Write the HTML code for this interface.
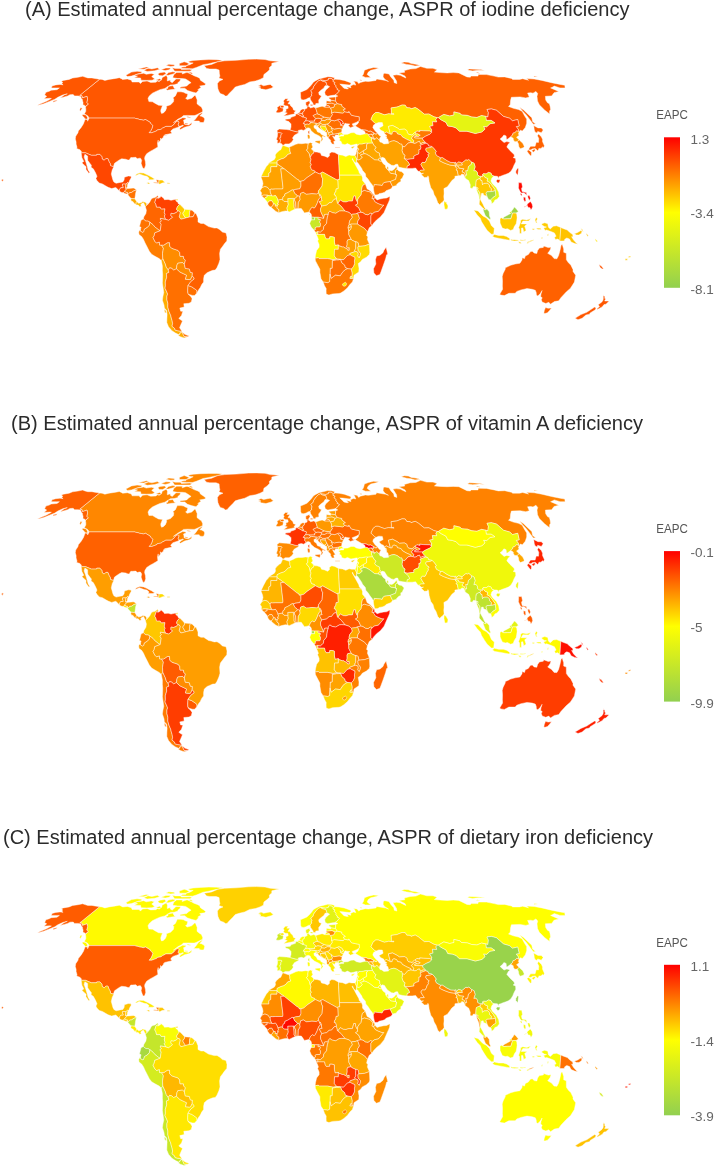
<!DOCTYPE html>
<html><head><meta charset="utf-8"><title>EAPC maps</title>
<style>
html,body{margin:0;padding:0;background:#fff}
body{width:714px;height:1166px;overflow:hidden;position:relative;font-family:"Liberation Sans","Noto Sans CJK SC",sans-serif}
svg{position:absolute;left:0;top:0;display:block}
.t{font-size:20px;fill:#2b2b2b}
.lt{font-size:12.6px;fill:#555}
.ll{font-size:13.5px;fill:#666}
</style></head><body>
<svg width="714" height="1166" viewBox="0 0 714 1166">
<defs>
<linearGradient id="lg" x1="0" y1="0" x2="0" y2="1"><stop offset="0" stop-color="#ff0000"/><stop offset="0.5" stop-color="#ffff00"/><stop offset="1" stop-color="#92d050"/></linearGradient>
<path id="CAN" d="M99.6,79.2L102.1,79.4L104.9,80.4L109.0,79.4L115.7,78.4L119.3,77.7L121.9,78.9L122.5,79.5L127.4,78.9L131.4,80.2L132.1,82.0L139.1,82.0L140.4,83.6L142.6,81.4L147.1,81.0L150.7,82.4L155.8,82.2L157.5,81.0L159.2,81.5L161.8,79.4L162.0,77.7L166.4,75.3L167.5,77.7L167.3,79.4L167.3,81.0L170.3,79.9L170.3,81.5L172.2,82.7L176.0,78.9L180.6,79.0L180.0,81.0L177.8,82.7L178.1,83.6L174.1,84.8L170.4,84.9L168.8,86.1L167.8,86.5L164.9,88.4L159.9,89.7L156.0,91.4L152.4,93.2L149.3,95.9L148.0,98.3L148.9,101.6L152.6,101.8L154.9,103.2L158.5,105.2L162.5,105.6L160.8,109.9L160.8,111.5L161.5,113.4L163.3,112.9L165.4,110.9L166.6,107.9L166.3,106.2L170.6,104.8L173.5,101.8L173.8,98.9L172.8,97.9L175.4,95.9L177.3,91.8L181.0,91.8L183.6,92.3L185.3,93.2L187.8,94.1L187.0,96.9L185.6,98.3L187.3,99.5L191.7,98.3L194.7,95.4L195.4,95.4L197.2,99.9L197.0,103.8L199.4,105.8L201.4,106.9L202.7,109.9L202.5,111.9L200.0,113.1L196.1,115.0L194.2,115.6L187.7,115.4L183.5,115.6L181.2,117.5L178.1,119.1L174.6,121.8L173.4,122.6L177.7,120.2L182.7,117.7L185.9,118.1L185.9,119.1L183.5,120.2L184.0,122.2L184.0,123.9L185.5,124.5L188.7,124.9L192.0,122.4L191.3,124.7L189.3,126.0L184.6,127.2L180.5,129.5L179.5,128.9L180.7,127.2L183.4,125.8L183.1,125.1L180.8,126.0L179.0,126.2L178.0,124.9L179.0,122.0L178.4,121.4L177.0,121.2L175.0,122.9L173.9,124.5L171.3,126.4L165.8,126.4L164.1,127.4L162.5,128.1L161.1,129.3L157.1,130.0L156.8,130.8L154.8,131.6L151.8,132.7L149.0,132.7L150.9,130.6L151.9,128.5L152.8,125.8L151.7,124.3L150.4,123.3L150.3,122.4L145.5,119.5L143.4,120.2L141.4,119.7L139.5,119.5L138.2,118.9L135.6,118.5L135.0,118.1L88.8,118.1L88.6,117.0L87.3,115.4L84.3,114.0L85.8,111.3L85.8,108.9L85.4,106.9L88.3,104.0L86.7,102.6L87.6,99.1L87.0,96.3L82.4,97.9L82.0,95.8L79.7,95.4ZM82.6,114.4L86.0,115.0L87.5,117.5L87.3,119.3L85.2,118.9L83.7,117.0L82.2,115.6ZM80.4,107.7L82.3,107.9L80.3,111.3L79.7,109.9ZM193.6,121.0L195.5,119.1L198.6,114.8L201.7,112.7L202.5,112.9L199.8,116.0L201.4,116.2L203.9,117.5L204.7,119.1L203.9,122.2L202.1,122.6L199.6,122.2L199.2,121.0L196.6,121.0ZM184.6,122.9L188.3,123.5L187.2,124.3L184.8,123.9ZM186.6,116.2L190.3,117.3L190.6,117.9L187.8,117.5ZM196.0,92.9L191.4,91.8L187.6,90.5L184.7,88.2L179.9,88.2L180.4,87.0L186.7,86.1L188.9,83.9L191.1,82.7L188.8,81.0L185.6,78.9L182.4,78.5L177.6,78.5L172.9,77.7L172.9,76.9L173.9,74.5L176.6,72.4L182.4,72.4L182.2,74.0L186.2,72.6L188.1,72.6L191.3,74.2L194.0,75.8L197.2,76.9L199.7,78.2L200.4,80.2L203.4,82.2L205.8,84.1L204.5,85.3L199.7,86.1L201.1,87.4L197.7,89.7L199.1,89.8ZM167.8,86.5L172.8,85.6L174.4,88.4L175.8,89.1L171.4,89.5L167.3,90.2L165.8,89.1L168.0,88.2ZM134.2,77.7L140.6,78.0L141.0,80.2L146.4,80.4L152.1,80.2L154.8,78.9L153.2,77.7L151.7,76.6L154.4,74.2L151.3,73.4L146.2,74.3L143.7,73.2L137.2,74.2L133.9,75.8L137.5,76.1ZM125.8,75.3L127.5,76.6L131.4,76.1L138.5,73.7L141.7,73.2L141.6,71.8L137.1,71.3L131.5,72.1ZM143.8,70.3L147.2,71.5L154.7,70.7L159.7,69.3L157.4,67.8L151.9,69.0L148.0,68.3ZM161.0,69.8L165.1,70.6L169.2,69.8L170.7,68.1L165.9,68.0ZM157.8,74.0L159.4,75.6L162.6,75.8L166.1,73.7L164.6,72.1L159.9,72.7ZM165.8,75.3L168.4,75.3L174.0,73.7L175.4,72.3L172.7,71.8L168.6,72.6ZM155.9,79.9L158.9,81.0L161.4,79.9L159.7,78.7ZM172.3,67.8L174.6,71.2L182.2,71.3L190.1,71.2L192.1,69.8L189.4,69.3L181.4,69.6L180.9,68.4L175.3,68.4ZM180.5,68.3L186.4,68.6L192.5,68.7L196.3,67.5L200.6,65.8L203.0,64.7L208.8,63.7L213.5,62.6L218.6,61.6L222.8,60.3L216.6,59.7L208.9,59.6L200.6,59.9L193.0,60.5L188.2,61.4L190.0,62.7L193.2,62.9L189.8,64.7L186.0,65.8L186.0,66.8L182.5,67.1ZM179.3,63.6L179.5,65.7L186.1,65.7L189.4,64.0L186.7,62.6L184.2,61.8ZM165.9,65.4L170.6,66.4L174.6,66.1L174.2,64.7L168.8,64.3ZM138.0,69.0L143.9,69.3L149.1,67.5L146.3,67.0ZM188.1,72.6L191.5,74.0L193.0,73.7L191.0,72.3Z"/>
<path id="USA" d="M88.8,118.1L135.0,118.1L135.6,118.5L138.2,118.9L139.5,119.5L141.4,119.7L143.4,120.2L145.5,119.5L150.3,122.4L150.4,123.3L151.7,124.3L152.8,125.8L151.9,128.5L150.9,130.6L149.0,132.7L151.8,132.7L154.8,131.6L156.8,130.8L157.1,130.0L161.1,129.3L162.5,128.1L164.1,127.4L165.8,126.4L171.3,126.4L173.9,124.5L175.0,122.9L177.0,121.2L178.4,121.4L179.0,122.0L178.0,124.9L179.0,126.2L178.7,127.0L175.9,127.9L173.0,128.9L171.2,130.6L170.7,131.6L171.7,132.7L171.5,133.5L169.7,133.8L167.8,134.2L164.5,135.0L167.5,135.0L163.8,135.7L163.2,137.6L161.1,139.2L160.5,138.0L160.5,140.1L158.3,143.1L158.2,140.1L157.5,143.3L157.9,146.9L155.8,148.2L152.9,149.9L150.1,151.4L146.7,153.7L144.9,156.7L144.6,158.6L145.4,161.8L145.7,165.0L144.6,168.2L143.1,168.6L142.2,166.5L141.1,163.3L141.7,160.3L140.5,158.2L139.2,158.2L137.3,158.8L135.8,157.3L132.6,157.5L130.8,157.5L129.4,159.7L129.8,160.1L128.0,160.1L125.8,159.2L121.7,158.8L119.7,159.7L117.1,161.4L114.5,163.3L113.4,166.7L113.8,166.8L110.6,165.8L110.2,163.5L109.1,161.8L107.9,158.6L105.9,158.6L104.2,160.3L102.2,159.0L101.9,156.7L99.9,154.4L96.8,154.4L96.5,155.3L91.4,155.3L85.4,152.8L81.2,152.8L81.4,151.4L79.9,149.7L76.7,148.6L77.0,147.1L76.1,144.1L76.1,141.8L75.3,139.0L75.7,136.3L78.0,132.7L78.3,131.0L81.2,127.4L83.5,123.7L85.1,119.3L87.7,119.7L87.6,121.2L89.1,118.1ZM99.6,79.2L79.7,95.4L82.0,95.8L82.4,97.9L87.0,96.3L87.6,99.1L86.7,102.6L88.3,104.0L85.6,106.2L84.7,105.4L82.9,104.8L83.1,102.8L82.6,100.9L82.4,99.5L81.4,98.5L80.7,96.5L78.3,95.9L74.5,95.9L73.2,94.5L69.9,94.7L67.7,95.9L64.3,96.9L60.2,97.9L64.2,95.0L67.3,93.8L62.7,95.0L57.8,97.3L54.8,99.3L49.4,101.4L43.7,103.8L39.2,105.0L37.4,105.2L40.5,103.8L46.5,101.3L51.4,98.5L49.8,98.3L46.5,98.5L44.0,98.7L46.7,96.3L44.6,95.0L45.5,93.2L45.9,92.3L49.2,91.3L51.1,90.2L57.0,89.7L59.4,87.9L56.5,87.9L51.4,87.9L52.0,86.0L55.7,84.9L60.0,84.4L63.1,84.8L61.7,83.6L62.8,82.5L61.4,81.2L63.4,80.4L69.1,79.4L72.6,78.0L78.0,77.2L82.7,76.3L85.0,77.1L87.8,77.9L91.9,77.9L95.0,78.5ZM53.1,100.9L57.3,99.9L56.5,101.1L53.2,102.2ZM2.0,179.0L3.6,179.9L2.1,181.6L1.6,180.5Z"/>
<path id="MEX" d="M81.2,152.8L85.4,152.8L91.4,155.3L96.5,155.3L96.8,154.4L99.9,154.4L101.9,156.7L102.2,159.0L104.2,160.3L105.9,158.6L107.9,158.6L109.1,161.8L110.2,163.5L110.6,165.8L113.8,166.8L112.2,169.9L111.3,174.1L111.9,176.3L112.9,179.9L113.9,182.0L116.1,183.3L120.0,182.4L122.8,182.0L124.1,179.9L124.4,177.3L128.3,176.0L131.1,176.3L131.2,177.7L129.6,180.5L128.7,183.1L127.8,182.6L126.0,184.1L122.6,184.1L122.4,185.3L123.3,187.1L123.2,187.7L120.8,187.7L119.6,189.4L119.5,191.1L116.4,188.0L115.6,187.5L111.7,188.6L108.1,187.3L105.5,185.8L102.4,183.9L99.3,183.1L96.9,180.5L95.9,178.6L97.0,176.3L95.4,172.6L93.3,168.8L91.1,167.3L91.4,165.2L90.0,163.5L87.7,160.3L87.6,156.0L84.9,154.3L84.1,157.1L85.3,160.3L86.1,162.8L87.3,166.7L88.1,169.9L89.8,172.6L88.8,173.3L85.9,169.2L86.1,166.7L84.1,165.0L81.9,162.8L83.8,161.4L81.9,157.7Z"/>
<path id="GTM" d="M119.5,191.1L119.6,189.4L120.8,187.7L123.2,187.7L123.3,187.1L122.4,185.3L122.6,184.1L126.0,184.1L125.4,188.2L126.0,188.2L127.3,188.6L125.2,190.3L124.8,191.4L123.2,192.7L121.0,192.3Z"/>
<path id="BLZ" d="M126.0,184.1L127.8,182.6L128.1,183.5L127.5,184.8L127.3,186.9L126.0,188.2L125.4,188.2Z"/>
<path id="SLV" d="M123.2,192.7L124.8,191.4L126.3,192.2L127.6,192.4L127.5,193.7L126.2,193.9L124.3,193.3Z"/>
<path id="HND" d="M124.8,191.4L125.2,190.3L127.3,188.6L128.6,188.4L131.4,188.2L133.3,188.0L134.6,188.4L136.5,190.1L134.0,190.7L131.6,192.4L129.7,192.6L128.4,194.3L127.5,193.7L127.6,192.4L126.3,192.2Z"/>
<path id="NIC" d="M128.4,194.3L127.6,194.6L129.7,196.9L131.1,198.4L132.8,198.6L134.8,198.8L135.2,196.5L135.6,193.3L136.5,190.1L134.0,190.7L131.6,192.4L129.7,192.6Z"/>
<path id="CRI" d="M131.1,198.4L132.8,198.6L134.8,198.8L136.7,201.6L136.1,202.8L136.0,204.9L135.8,204.3L134.5,203.7L132.8,201.4L132.0,201.6L130.8,200.1Z"/>
<path id="PAN" d="M136.7,201.6L138.7,203.3L141.6,202.4L142.6,201.6L145.4,202.2L146.5,203.6L146.8,205.2L145.4,206.7L144.5,204.8L143.5,202.8L142.5,203.1L140.7,204.6L141.4,206.3L139.7,206.7L138.2,205.0L136.0,204.9L136.1,202.8Z"/>
<path id="CUB" d="M135.1,175.4L137.0,173.7L139.9,172.8L143.6,173.1L146.2,174.3L148.8,175.6L151.5,176.9L154.6,179.0L153.0,179.7L148.0,179.8L149.1,178.2L146.9,176.3L144.1,175.8L141.5,174.8L139.2,173.9L136.8,175.2Z"/>
<path id="HTI" d="M153.7,183.0L157.3,183.3L158.7,183.6L159.1,180.1L156.0,179.7L156.9,181.4L157.6,182.5L153.8,182.3Z"/>
<path id="DOM" d="M158.7,183.6L159.1,180.1L162.3,180.1L165.1,182.4L162.0,183.1L159.8,184.3Z"/>
<path id="JAM" d="M146.5,183.1L148.6,182.6L150.2,183.4L148.8,184.1Z"/>
<path id="PRI" d="M167.3,182.7L170.1,183.0L169.8,183.7L167.2,183.7Z"/>
<path id="TTO" d="M176.0,199.2L177.9,199.0L177.6,200.5L175.9,200.6Z"/>
<path id="GRL" d="M204.2,65.8L211.6,64.4L217.8,61.8L224.5,60.8L236.4,60.3L248.4,59.3L256.3,59.1L265.0,59.5L270.2,60.8L279.2,61.4L271.8,63.3L271.8,65.4L269.4,67.5L269.5,69.8L267.1,72.1L263.9,74.5L263.4,77.7L260.0,79.4L255.5,81.0L249.7,81.9L244.7,84.4L239.3,85.8L235.3,87.0L232.9,89.7L229.4,93.2L227.0,95.9L225.4,96.1L223.7,94.7L220.3,93.6L219.0,91.4L217.9,88.8L217.6,86.1L217.4,83.6L219.4,81.0L223.0,79.4L218.9,78.0L219.9,76.1L219.4,73.7L219.1,70.1L216.1,69.0L209.8,69.0L206.6,68.4L205.4,67.1Z"/>
<path id="COL" d="M146.5,203.6L147.6,203.7L147.3,205.0L149.8,202.0L151.3,199.0L152.8,198.0L155.1,197.5L157.7,195.5L158.4,196.9L156.0,198.4L154.8,202.4L155.9,204.3L156.5,207.1L160.1,207.1L161.2,209.0L165.0,208.8L164.3,212.4L165.2,214.8L164.3,216.0L165.7,219.4L160.4,218.4L160.4,219.7L161.5,220.7L160.0,222.4L161.2,224.5L160.2,230.8L158.8,230.0L154.9,227.0L153.0,224.7L149.9,222.2L148.0,221.1L145.9,221.1L143.3,219.0L143.9,216.7L145.9,213.5L146.4,210.3L145.4,206.7L146.8,205.2Z"/>
<path id="VEN" d="M158.4,196.9L157.7,198.6L160.4,197.3L160.9,196.0L163.9,198.6L164.4,199.7L168.2,199.4L171.0,200.3L175.8,199.2L175.9,200.9L177.8,202.2L178.4,203.9L179.8,204.3L178.0,206.0L177.0,207.7L176.6,209.3L177.8,210.9L176.3,212.6L173.4,213.7L171.0,213.3L170.9,215.6L172.6,217.3L168.6,220.3L165.7,219.4L164.3,216.0L165.2,214.8L164.3,212.4L165.0,208.8L161.2,209.0L160.1,207.1L156.5,207.1L155.9,204.3L154.8,202.4L156.0,198.4Z"/>
<path id="GUY" d="M179.8,204.3L182.1,206.5L184.6,209.3L184.3,211.4L183.1,212.4L182.9,213.7L183.6,215.0L184.4,216.3L185.7,218.0L182.8,218.8L180.9,219.2L179.2,216.9L179.9,213.7L180.1,212.6L179.2,211.1L177.8,210.9L176.6,209.3L177.0,207.7L178.0,206.0Z"/>
<path id="SUR" d="M184.6,209.3L187.0,209.4L190.6,209.7L189.8,211.4L189.5,215.0L189.3,217.1L186.6,217.7L185.7,218.0L184.4,216.3L183.6,215.0L182.9,213.7L183.1,212.4L184.3,211.4Z"/>
<path id="GUF" d="M190.6,209.7L192.6,210.7L194.9,213.1L193.1,216.7L189.3,217.1L189.5,215.0L189.8,211.4Z"/>
<path id="ECU" d="M143.3,219.0L145.9,221.1L148.0,221.1L149.9,222.2L149.4,225.2L147.3,227.5L144.5,229.1L143.7,231.7L142.9,232.5L140.4,231.2L140.5,229.1L141.1,227.3L139.4,226.6L140.1,224.1L141.0,220.3Z"/>
<path id="PER" d="M140.5,229.1L140.4,231.2L142.9,232.5L143.7,231.7L144.5,229.1L147.3,227.5L149.4,225.2L149.9,222.2L153.0,224.7L154.9,227.0L158.8,230.0L160.2,230.8L154.7,232.9L154.2,235.7L153.0,237.6L154.8,241.3L156.5,243.0L159.4,242.0L159.6,245.1L161.5,245.1L163.4,248.3L162.5,253.5L162.8,258.8L161.3,260.6L159.2,258.6L155.0,256.3L151.6,254.2L149.3,251.2L147.3,247.2L145.1,243.0L143.4,239.2L141.6,236.5L139.0,234.6L138.7,231.9Z"/>
<path id="BOL" d="M162.8,258.8L162.5,253.5L163.4,248.3L161.5,245.1L163.9,245.1L167.2,242.8L169.5,242.6L169.7,246.2L171.7,248.3L174.6,249.3L178.0,250.4L179.7,252.5L180.0,256.3L183.4,256.3L183.7,258.4L185.4,260.3L184.5,263.6L184.4,264.5L182.6,262.6L177.8,263.2L176.9,265.3L176.5,268.8L173.6,270.1L171.8,268.4L169.7,267.8L168.2,269.9L166.1,267.2L165.2,264.0L164.2,261.9Z"/>
<path id="CHL" d="M161.3,260.6L162.8,258.8L164.2,261.9L165.2,264.0L166.1,267.2L168.2,269.9L168.9,272.4L166.4,273.5L166.7,277.3L165.3,281.9L165.4,285.7L165.0,288.2L166.8,292.0L167.6,294.1L166.9,296.2L166.9,299.8L167.9,303.5L167.8,307.1L168.9,311.2L170.7,315.4L171.3,318.1L172.1,320.6L172.6,323.6L172.0,326.3L174.5,328.3L175.2,330.1L177.6,330.7L182.1,331.4L179.8,333.7L178.5,334.5L175.5,333.1L171.9,330.7L168.5,326.7L166.8,322.6L166.9,318.5L167.1,314.4L166.5,310.2L164.4,308.1L164.0,305.0L162.4,300.2L162.9,296.6L163.8,292.4L163.0,287.2L162.4,283.0L162.6,278.7L162.7,274.5L162.4,270.8L162.4,266.1ZM182.1,332.0L184.1,336.5L187.0,337.3L184.1,337.9L180.4,336.7L178.1,335.3L180.0,334.1L180.0,332.5ZM164.1,309.8L165.6,310.0L166.5,313.1L165.0,312.7Z"/>
<path id="ARG" d="M168.2,269.9L169.7,267.8L171.8,268.4L173.6,270.1L176.5,268.8L179.9,272.0L183.9,273.9L186.6,275.2L185.4,279.2L189.2,279.6L190.4,279.4L192.2,275.8L193.9,277.9L194.2,279.0L190.9,281.5L188.0,285.5L187.7,290.3L187.9,293.3L188.1,294.1L190.8,296.6L192.1,298.7L191.3,301.9L189.0,303.3L183.8,303.7L184.2,307.1L179.8,308.1L180.7,311.2L182.9,311.2L181.5,315.4L178.8,318.5L182.5,321.0L180.9,324.6L179.6,327.7L182.1,331.4L177.6,330.7L175.2,330.1L174.5,328.3L172.0,326.3L172.6,323.6L172.1,320.6L171.3,318.1L170.7,315.4L168.9,311.2L167.8,307.1L167.9,303.5L166.9,299.8L166.9,296.2L167.6,294.1L166.8,292.0L165.0,288.2L165.4,285.7L165.3,281.9L166.7,277.3L166.4,273.5L168.9,272.4ZM182.1,332.0L184.1,336.5L187.5,336.7L189.3,336.0L184.8,334.3Z"/>
<path id="PRY" d="M176.5,268.8L176.9,265.3L177.8,263.2L182.6,262.6L184.4,264.5L185.3,268.4L189.3,268.9L190.4,272.4L192.4,272.7L192.2,275.8L190.4,279.4L189.2,279.6L185.4,279.2L186.6,275.2L183.9,273.9L179.9,272.0Z"/>
<path id="URY" d="M188.0,285.5L191.9,286.9L195.6,289.5L197.0,290.7L196.9,292.9L194.6,295.5L192.3,295.4L189.2,294.4L187.9,293.3L187.7,290.3Z"/>
<path id="BRA" d="M194.9,213.1L196.2,213.7L198.0,218.2L198.0,222.0L200.9,223.5L203.7,223.5L208.5,226.6L211.3,227.3L214.2,228.1L217.0,227.9L219.9,229.8L222.4,232.1L226.0,232.9L227.0,237.1L226.8,240.9L224.2,244.1L222.7,246.2L220.4,249.3L219.6,253.5L220.0,259.4L218.9,263.2L216.9,267.8L215.2,270.1L212.8,270.3L209.6,271.6L207.1,272.7L204.3,275.2L203.6,278.7L203.6,282.1L201.7,284.6L200.3,287.6L198.7,289.7L196.9,292.9L197.0,290.7L195.6,289.5L191.9,286.9L188.0,285.5L190.9,281.5L194.2,279.0L193.9,277.9L192.2,275.8L192.4,272.7L190.4,272.4L189.3,268.9L185.3,268.4L184.4,264.5L184.5,263.6L185.4,260.3L183.7,258.4L183.4,256.3L180.0,256.3L179.7,252.5L178.0,250.4L174.6,249.3L171.7,248.3L169.7,246.2L169.5,242.6L167.2,242.8L163.9,245.1L161.5,245.1L159.6,245.1L159.4,242.0L156.5,243.0L154.8,241.3L153.0,237.6L154.2,235.7L154.7,232.9L160.2,230.8L161.2,224.5L160.0,222.4L161.5,220.7L160.4,219.7L160.4,218.4L165.7,219.4L168.6,220.3L172.6,217.3L170.9,215.6L171.0,213.3L173.4,213.7L176.3,212.6L177.8,210.9L179.2,211.1L180.1,212.6L179.9,213.7L179.2,216.9L180.9,219.2L182.8,218.8L185.7,218.0L186.6,217.7L189.3,217.1L193.1,216.7Z"/>
<path id="ISL" d="M258.1,86.1L261.0,84.6L263.6,85.8L267.3,84.9L270.3,84.4L272.1,86.0L273.4,87.0L271.2,88.2L265.9,89.8L262.3,89.1L259.9,88.9L261.0,88.1L258.3,87.2L260.6,86.7Z"/>
<path id="IRL" d="M276.7,112.7L279.1,112.7L282.8,111.5L283.3,109.3L282.9,107.8L281.3,107.7L280.4,107.3L280.1,106.9L281.4,105.6L279.9,105.4L277.0,107.5L277.7,109.3L276.1,111.7Z"/>
<path id="GBR" d="M283.6,115.9L287.2,115.4L291.4,114.6L295.1,113.8L294.0,112.9L295.7,110.7L293.5,109.9L292.8,107.7L290.6,105.8L289.9,104.0L288.0,103.8L289.9,100.7L286.8,100.7L288.2,98.7L285.3,98.7L283.4,100.9L284.2,103.2L283.1,104.2L285.2,105.8L287.9,106.0L288.2,108.3L285.8,109.3L286.2,111.3L284.5,112.3L287.3,113.1L286.0,114.0ZM281.4,105.6L283.3,105.4L284.2,106.9L282.9,107.8L281.3,107.7L280.4,107.3L280.1,106.9Z"/>
<path id="PRT" d="M277.6,132.9L278.8,132.5L281.6,132.9L282.2,133.5L281.0,134.8L280.7,137.6L279.8,137.8L280.6,140.7L279.9,142.9L277.2,143.3L277.5,140.3L276.3,139.6L277.4,136.5Z"/>
<path id="ESP" d="M277.6,132.9L278.8,132.5L281.6,132.9L282.2,133.5L281.0,134.8L280.7,137.6L279.8,137.8L280.6,140.7L279.9,142.9L281.6,143.7L283.0,145.4L285.2,143.9L289.1,143.9L291.8,142.0L293.4,139.6L292.5,138.0L294.4,135.2L298.5,132.9L298.5,131.9L295.9,131.6L290.1,130.0L286.5,129.5L282.9,129.3L279.3,129.0L277.0,130.6Z"/>
<path id="FRA" d="M290.1,130.0L295.9,131.6L298.5,131.9L298.3,130.4L301.3,129.8L303.7,130.4L305.9,128.9L306.2,128.1L304.8,126.6L304.9,124.5L304.5,123.5L303.3,123.7L304.7,121.4L305.7,121.0L306.6,118.1L303.6,117.0L302.6,116.9L300.9,115.8L297.2,113.8L295.6,114.2L295.5,115.8L293.3,116.6L291.0,117.3L290.3,118.7L285.2,119.3L285.6,120.6L288.8,121.6L291.0,123.9L291.0,127.0ZM307.9,131.6L309.4,130.6L309.5,134.0L308.3,133.5Z"/>
<path id="BEL" d="M297.2,113.8L298.6,113.1L300.0,113.1L302.7,113.8L302.3,114.4L303.4,115.2L302.6,116.9L300.9,115.8Z"/>
<path id="NLD" d="M298.6,113.1L300.0,113.1L302.7,113.8L302.8,112.1L304.3,111.1L304.6,109.3L302.8,108.9L300.7,109.9L299.7,111.9Z"/>
<path id="LUX" d="M302.6,116.9L303.6,117.0L303.4,115.8L302.6,116.0Z"/>
<path id="DEU" d="M302.8,112.1L302.7,113.8L302.3,114.4L303.4,115.2L303.4,115.8L303.6,117.0L306.6,118.1L305.7,121.0L307.4,120.8L309.1,121.2L310.6,121.2L314.8,121.2L314.4,119.9L316.0,118.7L313.1,115.6L316.4,114.0L317.6,114.0L316.6,110.9L315.7,108.1L313.7,107.1L310.6,107.9L308.7,106.2L306.7,106.0L307.2,108.1L304.6,109.3L304.3,111.1Z"/>
<path id="DNK" d="M306.7,106.0L308.7,106.2L308.8,104.6L310.1,103.0L309.3,100.7L307.8,101.4L305.8,102.2L305.8,104.6ZM310.2,104.4L312.9,104.4L312.4,106.0L310.4,105.4Z"/>
<path id="CHE" d="M303.3,123.7L304.5,123.5L304.9,124.5L307.4,124.1L308.2,124.5L310.1,123.7L310.5,122.4L309.1,121.2L307.4,120.8L305.7,121.0L304.7,121.4Z"/>
<path id="AUT" d="M309.1,121.2L310.6,121.2L314.8,121.2L314.4,119.9L316.0,118.7L317.9,118.1L321.1,118.7L321.6,120.2L320.4,122.2L319.9,122.6L317.7,123.5L313.7,122.9L310.5,122.4Z"/>
<path id="ITA" d="M305.9,128.9L306.2,128.1L304.8,126.6L304.9,124.5L307.4,124.1L308.2,124.5L310.1,123.7L310.5,122.4L313.7,122.9L316.1,123.3L316.2,124.9L313.9,125.8L314.2,127.9L316.4,129.5L317.5,131.9L320.7,132.9L320.8,134.0L325.4,136.5L325.1,137.3L322.7,135.9L322.1,137.6L323.1,139.0L321.5,141.2L320.8,141.2L321.5,138.6L320.3,136.7L318.3,135.4L314.7,133.8L311.1,130.8L310.1,128.5L308.0,127.7ZM315.1,140.9L320.5,140.5L319.9,143.9L315.1,142.0ZM307.3,135.0L309.0,134.4L309.9,135.9L309.9,138.6L308.0,139.0L307.7,136.9Z"/>
<path id="SVN" d="M316.2,124.9L316.1,123.3L317.7,123.5L319.9,122.6L320.7,123.3L319.4,123.9L319.0,125.4L317.6,125.4Z"/>
<path id="HRV" d="M316.2,124.9L317.6,125.4L319.0,125.4L319.4,123.9L320.7,123.3L322.6,124.5L325.0,124.5L325.5,126.4L321.9,126.0L320.2,126.0L320.9,128.1L323.3,130.6L325.0,131.6L323.2,130.8L319.0,128.1L317.3,125.8L316.2,126.4Z"/>
<path id="BIH" d="M320.2,126.0L321.9,126.0L325.5,126.4L326.2,127.9L326.7,129.5L324.9,131.4L323.3,130.6L320.9,128.1Z"/>
<path id="MNE" d="M325.0,131.6L324.9,131.4L326.7,129.5L328.0,130.8L326.6,132.9Z"/>
<path id="SRB" d="M325.5,126.4L325.0,124.5L327.1,123.9L329.6,126.0L331.7,127.2L331.4,128.5L332.6,130.2L331.7,131.9L330.4,132.1L328.7,132.9L327.7,131.4L328.0,130.8L326.7,129.5L326.2,127.9Z"/>
<path id="ALB" d="M326.6,132.9L327.7,131.4L328.7,132.9L328.7,134.2L329.6,135.2L329.1,136.7L328.1,137.6L326.7,135.9L326.9,134.2Z"/>
<path id="MKD" d="M328.7,132.9L330.4,132.1L331.7,131.9L332.9,133.3L332.8,134.2L329.6,135.2L328.7,134.2Z"/>
<path id="GRC" d="M328.1,137.6L329.1,136.7L329.6,135.2L332.8,134.2L335.6,133.8L338.6,133.3L339.0,135.0L335.5,135.0L334.7,136.9L332.5,135.9L334.0,138.6L335.4,140.7L333.7,141.4L334.3,144.3L332.1,144.1L330.5,141.6L330.6,140.3L328.8,138.4ZM335.0,146.9L340.0,146.9L339.9,147.5L335.3,147.4Z"/>
<path id="BGR" d="M331.4,128.5L331.8,128.1L334.2,129.1L339.2,128.3L342.1,129.1L341.5,132.7L338.6,133.3L335.6,133.8L332.8,134.2L332.9,133.3L331.7,131.9L332.6,130.2Z"/>
<path id="ROU" d="M327.1,123.9L329.6,126.0L331.7,127.2L331.4,128.5L331.8,128.1L334.2,129.1L339.2,128.3L342.1,129.1L343.5,126.0L340.9,125.4L340.3,122.6L337.4,119.7L334.7,120.8L331.3,120.2L328.8,123.5Z"/>
<path id="MDA" d="M337.4,119.7L340.3,122.6L340.9,125.4L342.0,123.9L343.8,123.5L341.8,120.4L339.0,119.1Z"/>
<path id="HUN" d="M320.4,122.2L321.6,120.2L324.5,120.6L327.2,119.1L330.0,119.3L331.3,120.2L328.8,123.5L327.1,123.9L325.0,124.5L322.6,124.5L320.7,123.3L319.9,122.6Z"/>
<path id="SVK" d="M321.1,118.7L321.6,120.2L324.5,120.6L327.2,119.1L330.0,119.3L330.3,117.9L326.1,117.5L324.1,117.0Z"/>
<path id="CZE" d="M313.1,115.6L316.4,114.0L317.6,114.0L319.7,114.6L320.8,115.4L324.1,117.0L321.1,118.7L317.9,118.1L316.0,118.7Z"/>
<path id="POL" d="M315.7,108.1L316.6,110.9L317.6,114.0L319.7,114.6L320.8,115.4L324.1,117.0L326.1,117.5L330.3,117.9L332.5,114.6L331.5,112.9L331.6,110.5L330.6,107.9L329.4,107.1L324.6,107.1L322.1,106.2L319.3,106.9Z"/>
<path id="UKR" d="M330.0,119.3L330.3,117.9L332.5,114.6L331.5,112.9L334.5,112.1L343.0,113.1L344.6,111.7L348.5,112.5L348.8,111.3L351.4,115.2L355.7,116.2L359.3,116.8L359.4,120.6L357.2,122.0L354.8,122.9L352.2,123.9L353.0,125.8L355.2,125.8L353.5,126.6L350.4,127.7L348.2,125.6L349.8,124.1L346.7,123.7L345.0,123.3L343.5,126.0L340.9,125.4L342.0,123.9L343.8,123.5L341.8,120.4L339.0,119.1L337.4,119.7L334.7,120.8L331.3,120.2Z"/>
<path id="BLR" d="M330.6,107.9L331.6,110.5L331.5,112.9L334.5,112.1L343.0,113.1L344.6,111.7L343.4,109.7L345.5,108.9L341.9,106.2L341.8,104.6L337.3,103.6L335.0,104.4L333.7,107.3Z"/>
<path id="LTU" d="M326.4,105.2L326.2,103.6L332.0,103.0L335.0,104.4L333.7,107.3L330.6,107.9L329.4,107.1L329.2,106.0Z"/>
<path id="LVA" d="M326.2,103.6L326.5,100.7L330.8,101.4L330.6,100.1L335.5,100.9L337.3,103.6L335.0,104.4L332.0,103.0Z"/>
<path id="EST" d="M329.1,98.7L328.8,97.5L335.7,96.9L335.5,100.9L330.6,100.1L330.5,99.3Z"/>
<path id="NOR" d="M300.7,97.9L301.5,99.7L303.8,99.9L306.1,99.3L308.3,97.9L310.1,97.7L310.9,96.3L311.9,95.6L311.3,94.1L312.2,93.4L310.8,90.5L313.1,88.8L313.6,86.7L316.1,83.2L318.3,81.0L320.7,80.0L322.0,80.2L325.6,80.7L328.4,79.9L328.5,78.5L331.2,78.4L333.3,80.0L335.4,79.2L333.9,78.4L335.1,77.9L331.4,76.9L327.8,76.7L322.9,78.0L319.0,78.9L315.2,80.9L313.3,82.2L311.5,84.8L309.3,87.2L306.9,89.5L303.6,90.9L300.4,92.3L300.6,95.0Z"/>
<path id="SWE" d="M310.1,97.7L310.9,96.3L311.9,95.6L311.3,94.1L312.2,93.4L310.8,90.5L313.1,88.8L313.6,86.7L316.1,83.2L318.3,81.0L320.7,80.0L322.2,81.0L326.0,82.0L326.8,84.9L327.5,85.6L325.0,85.8L323.9,87.9L320.9,90.2L318.7,92.3L319.1,94.7L321.5,95.9L320.3,98.1L318.7,100.1L318.9,103.2L315.8,103.6L315.5,105.0L313.4,105.0L312.9,103.2L310.6,99.9Z"/>
<path id="FIN" d="M320.7,80.0L322.0,80.2L325.6,80.7L328.4,79.9L328.5,78.5L331.2,78.4L333.3,80.0L333.0,81.5L335.1,82.4L334.2,83.9L336.1,85.8L335.9,87.2L337.6,88.8L336.9,89.3L339.6,90.7L336.6,94.1L335.0,95.0L330.9,95.6L327.8,96.3L325.3,94.9L324.7,92.3L325.8,90.0L328.6,87.5L329.6,86.7L327.5,85.6L326.8,84.9L326.0,82.0L322.2,81.0Z"/>
<path id="CYP" d="M350.9,147.5L352.0,146.7L354.8,146.0L353.9,147.5L352.2,148.4Z"/>
<path id="MAR" d="M282.5,145.8L283.5,145.6L287.6,146.9L289.1,147.3L289.8,148.6L289.9,151.1L290.8,153.5L287.6,154.5L286.5,156.2L283.9,158.2L281.1,159.0L277.1,160.9L277.1,163.1L268.8,163.1L269.3,162.6L274.4,159.4L275.5,157.3L275.2,155.0L276.3,153.3L279.3,150.5L280.8,149.7Z"/>
<path id="ESH" d="M268.8,163.1L277.1,163.1L277.0,166.7L270.9,166.7L270.7,172.1L268.9,173.1L268.8,176.6L261.3,176.6L261.2,177.7L261.6,175.6L263.5,171.6L266.3,166.5L268.4,164.3Z"/>
<path id="DZA" d="M289.1,147.3L293.0,145.6L295.7,144.3L298.3,143.6L301.9,143.7L305.4,143.2L308.3,143.4L307.8,146.5L307.9,148.4L306.5,150.1L309.3,153.7L310.3,157.5L311.1,159.2L310.2,162.4L311.4,164.8L310.3,166.3L311.5,169.7L314.5,170.7L315.3,172.0L307.0,177.6L303.8,180.5L300.9,181.3L299.2,181.4L298.8,180.1L296.4,178.8L295.2,177.7L284.1,168.8L277.1,163.9L277.1,163.1L277.1,160.9L281.1,159.0L283.9,158.2L286.5,156.2L287.6,154.5L290.8,153.5L289.9,151.1L289.8,148.6Z"/>
<path id="TUN" d="M308.3,143.4L310.4,142.5L311.3,142.9L312.5,143.1L311.9,144.6L312.5,146.3L312.9,147.1L311.3,149.0L313.0,150.3L313.8,151.5L313.8,153.1L311.7,154.5L310.3,157.5L309.3,153.7L306.5,150.1L307.9,148.4L307.8,146.5Z"/>
<path id="LBY" d="M313.8,151.5L315.6,152.0L317.0,152.0L320.5,153.1L321.5,155.4L324.8,156.2L327.6,157.5L329.4,156.0L329.4,153.5L331.8,152.0L334.8,152.6L338.6,154.7L338.6,158.2L339.5,175.2L339.7,179.4L337.8,179.4L337.8,180.5L322.7,172.1L320.8,173.1L319.4,173.9L315.3,172.0L314.5,170.7L311.5,169.7L310.3,166.3L311.4,164.8L310.2,162.4L311.1,159.2L310.3,157.5L311.7,154.5L313.8,153.1Z"/>
<path id="EGY" d="M338.6,154.7L342.6,155.2L345.8,156.5L349.1,155.0L351.7,155.4L355.1,155.4L356.8,159.2L356.1,162.4L355.8,163.0L353.8,161.4L352.5,158.4L352.2,159.2L354.5,163.1L355.6,165.2L358.8,170.9L359.3,173.1L361.6,175.2L339.5,175.2L338.6,158.2Z"/>
<path id="SDN" d="M339.5,175.2L361.6,175.2L362.5,177.7L362.5,180.5L365.3,183.7L362.4,185.8L361.6,189.7L361.5,190.3L361.7,191.6L361.1,195.0L359.3,196.9L357.8,199.2L357.5,201.8L357.1,201.8L355.7,199.0L355.3,196.0L353.8,196.0L352.4,201.1L348.8,201.1L346.0,202.0L343.1,201.8L340.3,200.1L337.9,203.5L337.5,203.5L336.3,198.8L336.3,197.7L335.4,195.2L334.1,195.0L334.8,192.4L335.6,192.0L336.0,188.8L338.1,188.6L337.8,180.5L337.8,179.4L339.7,179.4Z"/>
<path id="SSD" d="M337.9,203.5L340.3,200.1L343.1,201.8L346.0,202.0L348.8,201.1L352.4,201.1L353.8,196.0L355.3,196.0L355.7,199.0L357.1,201.8L357.5,201.8L357.6,203.9L355.5,205.2L358.8,207.7L360.0,210.5L361.1,212.2L357.5,213.1L355.6,213.9L351.9,214.3L351.5,214.6L349.0,212.4L345.0,211.1L340.9,206.0L338.8,204.3Z"/>
<path id="MRT" d="M261.2,177.7L262.5,181.1L263.0,183.7L262.0,187.7L264.9,186.5L267.7,187.5L270.0,190.5L270.8,189.0L272.7,189.2L275.3,189.0L282.7,189.0L283.0,187.3L280.8,168.8L284.1,168.8L277.1,163.9L277.0,166.7L270.9,166.7L270.7,172.1L268.9,173.1L268.8,176.6L261.3,176.6Z"/>
<path id="MLI" d="M270.0,190.5L270.8,189.0L272.7,189.2L275.3,189.0L282.7,189.0L283.0,187.3L280.8,168.8L284.1,168.8L295.2,177.7L296.4,178.8L298.8,180.1L299.2,181.4L300.9,181.3L301.0,186.0L299.8,188.8L295.4,189.4L293.8,190.1L292.1,189.9L289.2,191.8L287.5,192.8L284.9,193.9L284.7,195.8L283.0,196.9L282.6,199.9L281.3,199.4L277.9,200.3L277.3,198.6L276.4,196.9L275.5,195.6L273.6,196.0L271.5,196.0L271.5,195.6L270.2,192.4Z"/>
<path id="SEN" d="M262.0,187.7L264.9,186.5L267.7,187.5L270.0,190.5L270.2,192.4L271.5,195.6L269.8,195.8L267.2,195.2L263.8,195.1L261.5,195.7L261.3,194.1L261.7,193.1L260.1,190.7Z"/>
<path id="GNB" d="M261.5,195.7L263.8,195.1L267.2,195.2L267.1,197.1L265.2,197.5L264.6,198.7L262.8,197.1Z"/>
<path id="GIN" d="M264.6,198.7L265.2,197.5L267.1,197.1L267.2,195.2L269.8,195.8L271.5,195.6L271.5,196.0L273.6,196.0L275.5,195.6L276.4,196.9L277.3,198.6L277.9,200.3L278.6,202.0L277.5,203.9L278.6,204.1L277.3,205.8L275.2,206.3L275.2,204.1L273.5,203.9L272.9,202.6L271.8,200.7L269.4,200.9L267.8,202.8L267.1,201.8L265.4,199.7Z"/>
<path id="SLE" d="M267.8,202.8L269.4,200.9L271.8,200.7L272.9,202.6L273.5,203.9L272.9,205.4L271.2,207.3L269.3,206.3L267.8,204.1Z"/>
<path id="LBR" d="M271.2,207.3L272.9,205.4L273.5,203.9L275.2,204.1L275.2,206.3L277.3,205.8L276.9,208.2L279.0,209.7L278.8,212.7L275.9,211.4L272.5,208.6Z"/>
<path id="CIV" d="M278.8,212.7L279.0,209.7L276.9,208.2L277.3,205.8L278.6,204.1L277.5,203.9L278.6,202.0L277.9,200.3L281.3,199.4L282.6,199.9L284.1,201.4L287.7,201.6L287.9,201.8L288.3,204.6L286.9,208.0L287.7,211.1L285.4,210.9L281.6,211.8Z"/>
<path id="GHA" d="M287.7,211.1L286.9,208.0L288.3,204.6L287.9,201.8L287.7,198.6L292.6,198.4L293.0,198.4L293.8,200.7L294.1,204.6L294.1,207.3L295.3,209.0L293.0,210.1L289.2,211.9Z"/>
<path id="TGO" d="M295.3,209.0L294.1,207.3L294.1,204.6L293.8,200.7L293.0,198.4L294.7,198.6L294.5,200.1L295.6,202.2L296.0,207.3L296.1,208.8Z"/>
<path id="BEN" d="M296.1,208.8L296.0,207.3L295.6,202.2L294.5,200.1L294.7,198.6L295.6,197.7L297.5,196.0L298.3,195.6L299.8,197.1L300.2,199.4L298.3,202.6L298.1,208.4Z"/>
<path id="BFA" d="M282.6,199.9L283.0,196.9L284.7,195.8L284.9,193.9L287.5,192.8L289.2,191.8L292.1,189.9L293.8,190.1L293.4,190.3L294.9,193.5L297.0,195.0L297.5,196.0L295.6,197.7L294.7,198.6L293.0,198.4L292.6,198.4L287.7,198.6L287.9,201.8L287.7,201.6L284.1,201.4Z"/>
<path id="NER" d="M293.8,190.1L295.4,189.4L299.8,188.8L301.0,186.0L300.9,181.3L303.8,180.5L307.0,177.6L315.3,172.0L319.4,173.9L320.8,173.1L321.9,177.3L322.7,178.6L322.1,186.0L318.4,191.1L318.6,192.8L317.7,193.3L316.6,194.1L311.9,193.7L309.0,194.1L306.2,194.3L303.4,192.4L300.7,193.3L299.8,197.1L298.3,195.6L297.5,196.0L297.0,195.0L294.9,193.5L293.4,190.3Z"/>
<path id="NGA" d="M298.1,208.4L298.3,202.6L300.2,199.4L299.8,197.1L300.7,193.3L303.4,192.4L306.2,194.3L309.0,194.1L311.9,193.7L316.6,194.1L317.7,193.3L318.6,192.8L319.8,195.4L320.6,197.5L319.1,198.6L318.2,200.5L317.2,203.3L315.4,206.9L314.2,208.2L312.3,207.3L310.6,208.8L309.1,212.0L306.3,212.6L304.4,212.9L302.5,210.1L301.3,208.5Z"/>
<path id="CMR" d="M309.1,212.0L310.6,208.8L312.3,207.3L314.2,208.2L315.4,206.9L317.2,203.3L318.2,200.5L319.1,198.6L320.6,197.5L319.8,195.4L320.3,194.6L321.5,196.9L321.5,199.7L322.3,200.7L319.3,201.6L321.8,206.0L320.5,209.0L320.7,211.4L323.4,217.3L323.6,218.4L318.3,217.3L314.5,217.3L311.6,217.1L311.4,215.0L311.0,213.7Z"/>
<path id="TCD" d="M318.6,192.8L318.4,191.1L322.1,186.0L322.7,178.6L321.9,177.3L320.8,173.1L322.7,172.1L337.8,180.5L338.1,188.6L336.0,188.8L335.6,192.0L334.8,192.4L334.1,195.0L335.4,195.2L336.3,197.7L336.3,198.8L334.0,199.4L331.6,202.6L329.0,202.8L328.8,203.3L326.5,205.2L324.4,205.6L322.4,206.0L321.8,206.0L319.3,201.6L322.3,200.7L321.5,199.7L321.5,196.9L320.3,194.6L319.8,195.4Z"/>
<path id="CAF" d="M321.8,206.0L322.4,206.0L324.4,205.6L326.5,205.2L328.8,203.3L329.0,202.8L331.6,202.6L334.0,199.4L336.3,198.8L337.5,203.5L337.9,203.5L338.8,204.3L340.9,206.0L345.0,211.1L341.4,210.9L339.3,211.1L335.7,213.3L332.1,212.6L329.8,211.1L328.3,212.9L328.3,214.6L326.2,214.3L324.5,214.6L323.6,218.4L323.4,217.3L320.7,211.4L320.5,209.0Z"/>
<path id="GNQ" d="M311.6,217.1L314.5,217.3L314.5,219.9L311.6,219.9ZM309.1,214.1L309.9,214.1L309.7,215.0L309.1,215.0Z"/>
<path id="GAB" d="M311.6,219.9L314.5,219.9L314.5,217.3L318.3,217.3L318.1,219.2L320.0,219.0L320.5,220.3L319.4,222.0L320.5,223.3L320.4,226.0L319.8,227.0L316.7,227.0L315.0,227.9L315.6,229.4L314.1,230.2L311.2,227.0L309.7,223.5L310.7,220.9Z"/>
<path id="COG" d="M314.1,230.2L315.6,229.4L315.0,227.9L316.7,227.0L319.8,227.0L320.4,226.0L320.5,223.3L319.4,222.0L320.5,220.3L320.0,219.0L318.1,219.2L318.3,217.3L323.6,218.4L324.5,214.6L326.2,214.3L328.3,214.6L327.4,217.1L326.8,221.4L326.6,223.3L323.8,226.6L323.4,229.4L321.8,231.0L320.3,232.3L317.7,231.7L315.8,232.5Z"/>
<path id="COD" d="M316.1,234.2L316.3,234.8L318.4,234.4L324.5,234.4L325.0,237.1L326.3,239.0L329.7,238.8L329.8,236.7L331.9,236.7L334.3,237.3L334.4,242.2L335.1,245.5L338.4,244.9L339.1,246.0L340.8,246.4L342.1,247.0L343.8,247.0L344.9,247.9L346.6,248.5L347.7,250.2L349.2,250.3L349.2,247.6L347.7,248.1L346.6,246.8L347.2,244.5L347.1,241.5L347.7,239.9L351.2,239.2L348.8,234.6L348.8,231.4L348.4,228.9L348.1,227.7L348.5,225.6L349.2,224.9L349.2,223.1L349.8,220.7L352.4,217.3L351.5,214.6L349.0,212.4L345.0,211.1L341.4,210.9L339.3,211.1L335.7,213.3L332.1,212.6L329.8,211.1L328.3,212.9L328.3,214.6L327.4,217.1L326.8,221.4L326.6,223.3L323.8,226.6L323.4,229.4L321.8,231.0L320.3,232.3L317.7,231.7L317.8,234.2Z"/>
<path id="AGO" d="M316.3,234.8L318.4,234.4L324.5,234.4L325.0,237.1L326.3,239.0L329.7,238.8L329.8,236.7L331.9,236.7L334.3,237.3L334.4,242.2L335.1,245.5L338.4,244.9L338.3,249.3L334.5,249.3L334.3,256.0L336.8,259.0L333.1,259.7L327.7,258.6L319.2,258.6L318.3,257.7L315.1,258.3L315.5,255.2L316.6,250.4L319.1,247.2L319.1,244.5L317.6,240.9L318.4,239.4L317.3,236.5ZM315.8,232.5L317.7,231.7L317.8,234.2L316.1,234.2Z"/>
<path id="UGA" d="M349.2,224.9L349.2,223.1L349.8,220.7L352.4,217.3L351.5,214.6L351.9,214.3L355.6,213.9L357.5,213.1L358.5,215.2L359.5,218.4L357.8,221.1L357.4,224.1L350.9,224.1L350.8,224.3Z"/>
<path id="RWA" d="M348.1,227.7L348.5,225.6L349.2,224.9L350.8,224.3L351.5,226.8L350.0,227.0L348.8,227.9Z"/>
<path id="BDI" d="M348.1,227.7L348.8,227.9L350.0,227.0L351.5,226.8L350.9,228.9L348.8,231.4L348.4,228.9Z"/>
<path id="KEN" d="M357.5,213.1L361.1,212.2L363.0,212.6L365.3,214.3L368.0,214.8L370.4,213.1L372.5,213.7L370.9,215.8L370.9,223.9L372.0,225.6L369.3,227.7L367.4,231.9L364.6,228.5L357.4,224.1L357.8,221.1L359.5,218.4L358.5,215.2Z"/>
<path id="TZA" d="M367.4,231.9L366.6,235.7L367.9,236.7L367.4,239.4L369.4,244.1L364.8,245.8L358.9,246.4L358.2,243.0L357.3,242.0L355.3,241.8L351.7,240.1L351.2,239.2L348.8,234.6L348.8,231.4L350.9,228.9L351.5,226.8L350.8,224.3L350.9,224.1L357.4,224.1L364.6,228.5Z"/>
<path id="ETH" d="M361.7,191.6L364.3,190.3L366.4,190.9L369.8,191.8L373.0,195.4L372.0,198.6L374.1,198.7L373.7,199.4L375.3,202.0L378.2,203.5L382.0,205.0L383.9,205.0L378.4,211.4L374.6,212.2L372.5,213.7L370.4,213.1L368.0,214.8L365.3,214.3L363.0,212.6L361.1,212.2L360.0,210.5L358.8,207.7L355.5,205.2L357.6,203.9L357.5,201.8L357.8,199.2L359.3,196.9L361.1,195.0Z"/>
<path id="ERI" d="M365.3,183.7L367.2,189.0L368.2,189.4L370.5,191.1L372.9,193.9L374.3,195.0L373.0,195.4L369.8,191.8L366.4,190.9L364.3,190.3L361.7,191.6L361.5,190.3L361.6,189.7L362.4,185.8Z"/>
<path id="DJI" d="M374.3,195.0L374.8,197.5L374.1,198.7L372.0,198.6L373.0,195.4Z"/>
<path id="SOM" d="M374.1,198.7L374.7,197.6L377.1,199.9L379.9,199.0L383.7,198.2L386.5,198.0L389.5,196.5L389.9,196.9L389.6,199.7L388.6,202.2L387.3,205.0L385.9,208.2L384.1,212.4L380.4,216.9L376.6,219.9L373.7,223.1L372.0,225.6L370.9,223.9L370.9,215.8L372.5,213.7L374.6,212.2L378.4,211.4L383.9,205.0L382.0,205.0L378.2,203.5L375.3,202.0L373.7,199.4Z"/>
<path id="ZMB" d="M338.4,244.9L339.1,246.0L340.8,246.4L342.1,247.0L343.8,247.0L344.9,247.9L346.6,248.5L347.7,250.2L349.2,250.3L349.2,247.6L347.7,248.1L346.6,246.8L347.2,244.5L347.1,241.5L347.7,239.9L351.2,239.2L351.7,240.1L355.3,241.8L356.0,242.2L355.7,244.7L355.8,248.3L354.6,250.6L355.5,251.4L349.8,253.5L350.1,254.8L347.3,255.6L343.6,259.7L340.4,259.4L336.8,259.0L334.3,256.0L334.5,249.3L338.3,249.3Z"/>
<path id="MWI" d="M355.3,241.8L357.3,242.0L358.2,243.0L358.9,246.4L358.3,246.4L357.9,247.6L358.2,250.4L360.5,253.3L360.2,255.6L359.2,257.9L357.6,256.0L358.1,254.2L357.8,252.3L355.5,251.4L354.6,250.6L355.8,248.3L355.7,244.7L356.0,242.2Z"/>
<path id="MOZ" d="M369.4,244.1L369.6,248.3L369.8,252.5L369.3,254.6L366.4,257.3L362.3,259.4L360.7,261.7L358.2,263.6L359.0,268.2L358.8,272.0L354.0,275.2L353.6,278.4L352.1,278.4L351.9,276.5L352.1,273.1L351.2,269.1L353.3,266.8L354.6,263.6L354.4,261.1L354.8,258.8L354.7,257.1L352.1,256.0L350.1,254.8L349.8,253.5L355.5,251.4L357.8,252.3L358.1,254.2L357.6,256.0L359.2,257.9L360.2,255.6L360.5,253.3L358.2,250.4L357.9,247.6L358.3,246.4L358.9,246.4L364.8,245.8Z"/>
<path id="ZWE" d="M340.4,259.4L343.6,259.7L347.3,255.6L350.1,254.8L352.1,256.0L354.7,257.1L354.8,258.8L354.4,261.1L354.6,263.6L353.3,266.8L351.2,269.1L347.7,268.7L345.1,267.4L344.6,265.1L341.9,263.0Z"/>
<path id="BWA" d="M340.4,259.4L341.9,263.0L344.6,265.1L345.1,267.4L347.7,268.7L345.6,269.5L342.9,271.8L340.3,275.8L335.5,275.2L331.1,278.5L330.0,274.1L330.2,268.2L332.1,268.2L332.3,260.5L336.6,259.8L338.3,259.8Z"/>
<path id="NAM" d="M315.1,258.3L318.3,257.7L319.2,258.6L327.7,258.6L333.1,259.7L336.8,259.0L340.4,259.4L338.3,259.8L336.6,259.8L332.3,260.5L332.1,268.2L330.2,268.2L330.0,274.1L329.7,281.7L327.8,282.7L325.0,282.3L323.2,282.1L321.0,278.7L319.9,272.4L319.9,269.3L318.0,265.7L315.5,260.9Z"/>
<path id="ZAF" d="M323.2,282.1L325.0,282.3L327.8,282.7L329.7,281.7L330.0,274.1L331.1,278.5L335.5,275.2L340.3,275.8L342.9,271.8L345.6,269.5L347.7,268.7L351.2,269.1L352.1,273.1L351.9,276.5L350.8,276.2L349.9,278.3L352.1,278.4L353.6,278.4L352.4,281.9L349.9,284.6L347.5,287.8L343.9,290.9L340.7,293.0L339.0,293.5L335.2,293.7L332.5,293.9L328.9,295.1L326.2,294.1L326.1,290.7L326.2,288.6L324.5,285.7Z"/>
<path id="SWZ" d="M351.9,276.5L352.1,278.4L349.9,278.3L350.8,276.2Z"/>
<path id="LSO" d="M342.3,284.2L345.4,282.1L346.7,283.8L346.0,285.5L344.3,286.3L342.9,285.7Z"/>
<path id="MDG" d="M386.1,247.2L387.8,254.2L386.6,254.8L385.6,258.8L383.4,265.1L381.1,271.4L379.9,274.5L376.4,275.8L373.9,272.9L373.5,268.7L375.9,264.0L375.4,259.8L376.6,256.0L380.0,255.2L383.0,252.7L384.0,250.2Z"/>
<path id="RUS" d="M335.4,79.2L339.1,79.5L344.2,80.4L350.6,82.7L351.1,84.1L349.4,85.1L342.7,84.3L339.8,84.1L342.8,87.0L343.9,88.2L347.0,88.9L348.4,88.8L346.4,86.8L351.0,87.7L350.4,86.0L353.4,84.6L355.8,85.1L354.5,82.0L353.4,80.9L357.1,81.5L358.7,83.6L360.3,82.4L365.3,81.2L368.3,81.5L372.2,81.0L376.0,80.4L376.5,78.9L381.1,79.7L385.8,80.5L388.5,81.5L385.0,79.4L383.1,76.9L383.3,74.0L384.7,73.2L389.0,74.0L390.8,76.9L393.8,80.2L394.2,82.7L396.8,83.6L396.5,81.0L392.9,75.3L396.5,74.8L400.3,75.3L403.6,76.9L405.9,78.0L405.0,76.1L398.8,72.9L404.7,72.3L404.3,70.6L410.2,69.0L415.9,68.6L420.5,66.5L426.8,68.3L433.0,68.3L437.1,69.8L434.4,72.1L440.2,72.6L447.2,72.9L453.2,72.6L458.9,72.9L467.0,76.9L470.2,77.2L471.3,76.1L478.0,76.1L478.3,74.5L486.5,74.6L494.1,76.1L498.3,77.1L504.8,76.9L511.5,78.5L512.7,79.4L519.6,79.4L522.6,78.7L528.5,80.2L526.5,78.5L534.2,79.0L541.9,80.4L551.5,82.7L560.1,84.4L564.8,85.3L565.1,87.9L560.0,87.9L554.3,86.1L551.9,87.4L550.6,87.9L558.8,91.4L554.0,92.7L551.7,95.9L545.4,96.3L545.7,99.9L547.5,102.8L549.4,103.8L550.1,106.2L550.6,109.5L549.6,110.9L549.6,114.0L544.5,109.9L539.3,104.8L537.5,100.9L537.0,96.3L537.7,93.6L535.9,91.4L533.0,93.2L530.8,92.7L527.6,93.0L529.3,96.9L525.8,97.9L520.1,96.9L511.4,97.3L510.6,100.3L510.2,104.8L508.5,106.4L513.3,108.3L518.4,109.5L522.1,111.3L524.7,116.0L526.7,119.1L526.7,123.3L525.3,127.4L522.4,131.0L520.2,130.2L519.1,132.1L518.5,131.4L518.4,129.5L516.2,126.6L519.2,126.0L517.7,119.5L512.4,120.8L509.8,118.3L503.5,116.4L496.5,110.3L491.4,108.9L487.0,109.5L488.4,112.5L487.9,117.0L485.7,116.4L481.5,115.6L476.9,117.5L471.7,117.0L467.4,115.4L461.4,115.0L460.1,113.4L453.9,111.9L454.0,115.0L449.7,116.0L443.8,114.4L439.4,117.0L438.6,117.7L437.3,117.7L433.9,116.8L428.9,114.0L424.4,114.2L418.3,109.3L415.2,107.5L411.0,108.9L410.3,107.9L406.8,107.7L405.2,105.2L402.1,105.0L397.0,107.1L391.1,107.9L391.4,110.1L391.4,114.0L393.5,113.4L394.0,114.4L388.7,113.8L384.5,114.8L382.2,114.0L378.3,112.5L375.7,112.5L373.0,114.8L371.0,119.3L374.8,123.1L376.1,123.5L373.6,125.1L372.8,127.4L374.8,130.6L377.3,133.0L376.2,134.4L373.6,132.9L370.7,131.2L368.6,131.4L366.1,130.2L361.8,129.8L357.0,127.0L355.2,125.8L357.6,123.9L358.9,121.8L357.2,122.0L359.4,120.6L359.3,116.8L355.7,116.2L351.4,115.2L348.8,111.3L348.5,112.5L344.6,111.7L343.4,109.7L345.5,108.9L341.9,106.2L341.8,104.6L337.3,103.6L335.5,100.9L335.7,96.9L337.8,96.1L336.1,95.2L335.0,95.0L336.6,94.1L339.6,90.7L336.9,89.3L337.6,88.8L335.9,87.2L336.1,85.8L334.2,83.9L335.1,82.4L333.0,81.5L333.3,80.0ZM324.6,107.1L329.4,107.1L329.2,106.0L326.4,105.2ZM362.0,75.9L365.4,77.4L370.9,77.5L367.1,74.5L368.3,72.1L370.8,70.3L376.2,69.0L378.7,68.0L373.6,67.5L368.4,68.7L364.4,70.3L363.9,72.4L363.2,74.5ZM519.6,107.3L523.6,109.9L526.7,112.9L531.8,117.7L532.6,121.6L535.6,123.9L533.3,124.3L530.3,120.2L526.3,115.0L522.5,110.9ZM533.8,76.9L537.9,76.6L534.3,76.1ZM359.8,79.7L361.9,79.9L361.6,80.7L360.2,80.5ZM406.7,64.4L411.0,65.0L415.0,66.1L420.3,65.5L416.0,64.3L411.4,63.6L408.3,62.3L404.3,61.9L401.1,62.9ZM467.5,70.1L472.6,70.9L475.9,70.6L479.2,70.3L484.9,70.6L480.6,69.6L474.7,69.2L469.1,68.9ZM475.6,72.7L480.6,73.4L477.5,72.3Z"/>
<path id="KAZ" d="M437.3,117.7L433.9,116.8L428.9,114.0L424.4,114.2L418.3,109.3L415.2,107.5L411.0,108.9L410.3,107.9L406.8,107.7L405.2,105.2L402.1,105.0L397.0,107.1L391.1,107.9L391.4,110.1L391.4,114.0L393.5,113.4L394.0,114.4L388.7,113.8L384.5,114.8L382.2,114.0L378.3,112.5L375.7,112.5L373.0,114.8L371.0,119.3L374.8,123.1L376.1,123.5L378.8,122.4L382.3,122.6L383.1,125.8L380.1,127.4L379.0,127.9L380.8,130.2L383.7,131.6L384.1,133.3L386.4,132.1L390.4,134.2L388.4,126.4L392.5,125.4L397.3,127.9L399.5,129.5L404.4,129.1L406.9,130.6L407.3,132.7L408.7,134.4L411.5,134.8L411.8,135.4L413.1,134.0L414.6,132.5L415.8,132.1L416.8,131.0L420.0,131.6L419.7,130.4L423.5,130.8L429.6,131.0L431.8,132.3L431.3,130.4L432.0,130.2L429.6,126.4L433.1,125.6L432.4,121.8L436.7,122.0L435.9,119.3Z"/>
<path id="UZB" d="M390.4,134.2L388.4,126.4L392.5,125.4L397.3,127.9L399.5,129.5L404.4,129.1L406.9,130.6L407.3,132.7L408.7,134.4L411.5,134.8L411.8,135.4L413.1,134.0L414.6,132.5L415.8,132.1L415.8,133.8L417.6,133.8L420.3,135.2L419.1,135.9L418.4,136.5L416.3,136.3L415.6,134.8L413.8,135.2L413.0,136.5L411.3,138.0L413.8,140.7L413.3,142.9L410.9,142.5L410.8,141.2L406.2,139.1L402.4,136.9L401.0,134.8L397.5,134.0L396.8,132.3L394.0,131.2L392.3,132.3L392.1,134.2Z"/>
<path id="TKM" d="M384.1,133.3L386.4,132.1L390.4,134.2L392.1,134.2L392.3,132.3L394.0,131.2L396.8,132.3L397.5,134.0L401.0,134.8L402.4,136.9L406.2,139.1L410.8,141.2L410.9,142.5L408.0,143.1L405.8,145.6L404.5,146.9L402.3,146.3L401.7,144.1L400.3,144.1L397.1,141.8L394.0,140.7L391.1,141.3L388.6,142.5L387.9,139.2L386.3,138.2L386.9,136.9L385.0,135.9L386.9,135.4Z"/>
<path id="KGZ" d="M415.8,132.1L416.8,131.0L420.0,131.6L419.7,130.4L423.5,130.8L429.6,131.0L431.8,132.3L429.6,134.4L425.8,136.1L422.4,138.2L419.1,138.2L414.7,138.0L414.6,136.7L416.3,136.3L418.4,136.5L419.1,135.9L420.3,135.2L417.6,133.8L415.8,133.8Z"/>
<path id="TJK" d="M411.3,138.0L413.0,136.5L413.8,135.2L415.6,134.8L416.3,136.3L414.6,136.7L414.7,138.0L419.1,138.2L422.4,138.2L423.1,139.9L425.9,142.7L423.0,142.4L420.5,143.9L419.5,141.4L417.3,142.0L416.4,143.1L413.8,143.4L413.3,142.9L413.8,140.7Z"/>
<path id="AFG" d="M402.3,146.3L404.5,146.9L405.8,145.6L408.0,143.1L410.9,142.5L413.3,142.9L413.8,143.4L416.4,143.1L417.3,142.0L419.5,141.4L420.5,143.9L423.0,142.4L425.9,142.7L425.8,143.2L422.1,144.6L420.0,145.4L421.1,147.1L420.4,149.4L418.9,149.7L419.1,151.6L418.6,154.1L416.4,154.8L413.8,156.2L414.0,158.5L407.2,159.4L404.1,158.5L405.0,155.2L403.2,154.1L401.9,150.3L402.4,148.4Z"/>
<path id="PAK" d="M404.1,158.5L407.2,159.4L414.0,158.5L413.8,156.2L416.4,154.8L418.6,154.1L419.1,151.6L418.9,149.7L420.4,149.4L421.1,147.1L420.0,145.4L422.1,144.6L425.8,143.2L428.0,143.9L428.7,145.8L432.1,146.5L430.9,147.5L426.1,148.2L425.8,149.9L426.9,151.8L429.3,153.3L428.1,154.5L428.5,156.2L426.9,158.4L426.4,160.3L425.0,162.6L422.2,162.4L420.9,164.5L422.4,167.3L424.4,170.1L420.4,170.3L419.4,171.6L417.9,171.1L415.6,168.0L412.2,168.4L406.8,168.4L407.1,166.0L409.5,165.0L409.2,163.9L408.1,161.8Z"/>
<path id="IND" d="M419.4,171.6L420.4,170.3L424.4,170.1L422.4,167.3L420.9,164.5L422.2,162.4L425.0,162.6L426.4,160.3L426.9,158.4L428.5,156.2L428.1,154.5L429.3,153.3L426.9,151.8L425.8,149.9L426.1,148.2L430.9,147.5L432.1,146.5L434.5,149.0L436.5,151.8L435.3,152.6L436.5,155.4L440.6,157.7L439.6,160.7L443.3,162.6L446.1,163.7L449.8,165.0L455.3,165.8L454.7,162.6L455.9,162.2L456.3,163.9L456.8,165.0L462.3,164.9L461.4,162.8L462.1,162.8L465.9,159.7L467.5,160.1L468.8,159.4L471.6,162.0L471.4,164.3L468.5,166.5L468.0,169.4L467.4,171.1L465.8,170.7L466.7,175.2L465.2,175.2L464.3,172.8L462.1,172.0L462.3,170.7L463.8,168.8L458.9,168.2L458.6,166.7L455.8,165.6L455.3,165.8L455.6,167.1L457.3,168.4L456.0,169.9L457.2,170.3L458.4,175.8L454.9,176.3L455.0,178.0L451.9,180.5L447.4,186.7L443.9,188.6L444.1,193.3L443.8,196.5L444.1,200.1L442.5,202.2L441.0,203.1L439.8,204.8L437.8,202.8L436.0,197.7L434.1,194.6L433.0,190.7L430.8,187.7L429.1,181.6L428.6,177.3L427.9,175.8L427.5,177.3L424.4,177.5L421.2,174.5L423.5,173.3L421.5,173.5Z"/>
<path id="NPL" d="M439.6,160.7L440.6,157.7L442.4,157.5L446.9,160.5L450.8,162.4L454.7,162.6L455.3,165.8L449.8,165.0L446.1,163.7L443.3,162.6Z"/>
<path id="BTN" d="M456.3,163.9L456.6,163.7L458.4,161.8L461.1,162.4L461.4,162.8L462.3,164.9L456.8,165.0Z"/>
<path id="BGD" d="M455.6,167.1L457.3,168.4L456.0,169.9L457.2,170.3L458.4,175.8L461.0,175.4L461.7,174.1L463.6,174.5L465.0,178.0L465.2,175.2L464.3,172.8L462.1,172.0L462.3,170.7L463.8,168.8L458.9,168.2L458.6,166.7L455.8,165.6Z"/>
<path id="LKA" d="M444.1,201.1L445.9,202.2L448.0,205.8L447.7,208.4L445.9,209.4L444.7,208.8L444.0,204.8Z"/>
<path id="CHN" d="M438.6,117.7L440.9,119.7L446.0,122.4L447.8,126.0L452.3,126.6L456.1,127.9L459.4,131.2L467.0,131.2L475.3,133.5L481.9,131.9L485.0,129.1L483.5,126.4L486.7,126.8L490.0,123.7L494.9,122.9L491.2,120.4L486.3,120.4L485.7,116.4L487.9,117.0L488.4,112.5L487.0,109.5L491.4,108.9L496.5,110.3L503.5,116.4L509.8,118.3L512.4,120.8L517.7,119.5L519.2,126.0L516.2,126.6L518.4,129.5L518.5,131.4L518.5,131.6L516.8,130.8L514.8,132.7L513.1,133.1L512.6,135.0L510.7,136.7L507.7,139.0L506.5,139.5L506.1,135.9L503.9,135.0L502.4,137.1L500.1,139.0L502.5,141.2L504.1,142.6L506.8,141.6L510.2,142.4L508.3,144.1L506.8,146.9L510.1,150.7L514.1,154.5L514.5,156.2L513.1,157.5L515.6,158.4L515.8,161.8L514.0,165.2L512.8,168.2L510.8,171.4L508.4,173.3L505.3,174.5L503.1,175.2L500.5,176.3L498.8,176.7L498.7,178.8L497.4,176.3L494.0,176.1L492.1,175.6L490.9,173.1L488.4,172.4L486.2,173.9L483.4,173.7L482.8,174.3L482.4,176.9L481.4,176.3L479.5,176.3L477.4,174.8L477.5,172.8L476.0,170.7L473.8,170.9L475.1,166.9L474.1,163.3L471.6,162.0L468.8,159.4L467.5,160.1L465.9,159.7L462.1,162.8L461.4,162.8L461.1,162.4L458.4,161.8L456.6,163.7L456.3,163.9L455.9,162.2L454.7,162.6L450.8,162.4L446.9,160.5L442.4,157.5L440.6,157.7L436.5,155.4L435.3,152.6L436.5,151.8L434.5,149.0L432.1,146.5L428.7,145.8L428.0,143.9L425.8,143.2L425.9,142.7L423.1,139.9L422.4,138.2L425.8,136.1L429.6,134.4L431.8,132.3L431.3,130.4L432.0,130.2L429.6,126.4L433.1,125.6L432.4,121.8L436.7,122.0L435.9,119.3L437.3,117.7ZM496.1,181.1L497.3,179.4L500.2,179.7L499.6,182.0L498.0,183.3Z"/>
<path id="TWN" d="M517.5,168.2L518.5,168.8L517.8,175.2L515.9,173.1L515.9,170.9Z"/>
<path id="MNG" d="M438.6,117.7L440.9,119.7L446.0,122.4L447.8,126.0L452.3,126.6L456.1,127.9L459.4,131.2L467.0,131.2L475.3,133.5L481.9,131.9L485.0,129.1L483.5,126.4L486.7,126.8L490.0,123.7L494.9,122.9L491.2,120.4L486.3,120.4L485.7,116.4L481.5,115.6L476.9,117.5L471.7,117.0L467.4,115.4L461.4,115.0L460.1,113.4L453.9,111.9L454.0,115.0L449.7,116.0L443.8,114.4L439.4,117.0Z"/>
<path id="PRK" d="M510.7,136.7L512.6,135.0L513.1,133.1L514.8,132.7L516.8,130.8L518.5,131.6L519.1,132.1L518.4,134.0L519.2,135.2L516.5,137.3L519.2,139.9L517.2,141.6L514.8,141.8L513.4,139.9L513.2,138.2Z"/>
<path id="KOR" d="M517.2,141.6L519.2,139.9L522.8,143.3L524.3,146.5L523.3,147.7L520.1,148.8L518.8,146.5L518.4,143.7Z"/>
<path id="JPN" d="M528.4,149.7L529.5,147.7L530.6,146.3L535.1,146.3L535.9,143.5L536.3,142.2L538.5,142.4L538.8,138.6L537.4,135.7L538.6,134.0L541.5,136.9L542.6,139.5L542.5,141.6L544.4,145.8L543.7,147.7L542.6,146.9L540.9,148.4L538.8,148.4L538.9,149.0L537.7,150.7L535.2,148.4L531.9,149.0L531.0,149.9ZM535.0,131.9L534.3,130.0L533.7,125.6L538.0,127.9L541.4,127.9L543.2,130.0L541.3,132.7L537.7,131.4L537.0,133.1ZM526.9,151.1L528.7,149.9L531.5,152.2L531.4,155.2L530.4,155.8L528.8,153.7ZM531.6,150.7L534.2,149.0L535.4,150.1L533.6,152.2Z"/>
<path id="MMR" d="M465.0,178.0L465.2,175.2L466.7,175.2L465.8,170.7L467.4,171.1L468.0,169.4L468.5,166.5L471.4,164.3L471.6,162.0L474.1,163.3L475.1,166.9L473.8,170.9L476.0,170.7L477.5,172.8L477.4,174.8L479.5,176.3L481.4,176.3L480.0,178.6L478.6,179.0L476.4,180.1L476.0,182.6L475.8,186.9L478.2,188.0L477.7,189.7L479.9,192.8L480.3,198.6L479.5,200.7L478.8,195.4L476.8,190.5L476.4,186.9L473.5,186.5L472.2,188.4L470.1,188.0L470.3,184.8L468.6,180.5L466.9,179.4Z"/>
<path id="THA" d="M476.0,182.6L476.4,180.1L478.6,179.0L480.0,178.6L480.9,180.5L482.0,180.5L482.5,184.8L483.9,183.3L487.6,183.1L489.4,185.0L489.7,186.9L491.5,188.8L491.1,191.6L486.9,191.8L486.0,193.1L487.3,197.1L486.1,196.0L483.5,195.0L483.2,193.3L481.5,193.5L480.5,199.7L482.9,203.9L484.4,207.3L486.1,209.7L484.8,209.9L483.0,208.2L481.8,207.1L479.2,204.3L479.5,200.7L480.3,198.6L479.9,192.8L477.7,189.7L478.2,188.0L475.8,186.9Z"/>
<path id="LAO" d="M480.0,178.6L481.4,176.3L482.4,176.9L482.8,174.3L484.9,177.3L487.9,178.6L487.1,180.9L489.8,182.4L493.3,186.9L495.2,189.7L495.3,190.7L492.5,191.4L491.1,191.6L491.5,188.8L489.7,186.9L489.4,185.0L487.6,183.1L483.9,183.3L482.5,184.8L482.0,180.5L480.9,180.5Z"/>
<path id="VNM" d="M482.8,174.3L483.4,173.7L486.2,173.9L488.4,172.4L490.9,173.1L492.1,175.6L494.0,176.1L491.9,178.0L490.9,180.9L492.4,183.7L496.4,187.7L498.7,192.2L499.3,196.5L497.1,199.2L494.9,200.1L494.0,202.0L491.8,203.7L491.2,201.1L490.6,199.9L493.0,197.3L495.8,195.6L495.3,190.7L495.2,189.7L493.3,186.9L489.8,182.4L487.1,180.9L487.9,178.6L484.9,177.3Z"/>
<path id="KHM" d="M486.0,193.1L486.9,191.8L491.1,191.6L492.5,191.4L495.3,190.7L495.8,195.6L493.0,197.3L490.6,199.9L488.6,199.4L487.3,197.1Z"/>
<path id="MYS" d="M483.0,208.2L484.8,209.9L486.1,209.7L486.8,208.8L489.2,211.8L489.5,216.0L490.9,219.0L489.6,219.2L485.4,215.8L483.5,210.9ZM501.2,217.7L503.9,219.0L507.6,218.8L510.9,218.8L512.6,213.1L516.0,213.1L518.4,211.4L515.8,208.2L514.2,207.1L513.0,209.2L511.2,211.4L510.5,213.5L507.5,215.2L504.6,216.7L502.5,218.4Z"/>
<path id="BRN" d="M509.5,212.2L511.2,211.4L511.8,212.9L510.5,213.5Z"/>
<path id="SGP" d="M489.8,219.0L490.6,218.9L490.6,219.3L489.8,219.4Z"/>
<path id="IDN" d="M473.8,210.1L478.0,210.9L482.9,216.0L486.2,217.7L489.4,220.9L491.5,225.8L494.3,228.3L493.7,234.2L491.4,234.2L487.2,230.4L484.6,226.6L481.5,221.6L480.3,218.2L477.2,215.0ZM492.4,236.3L494.4,234.4L498.7,235.5L503.3,235.5L506.6,236.5L509.7,238.4L509.6,240.3L506.4,239.7L499.5,238.4L494.8,237.6ZM500.0,218.8L501.2,217.7L502.5,218.4L503.9,219.0L507.6,218.8L510.9,218.8L512.6,213.1L516.0,213.1L516.8,214.6L517.1,217.7L516.8,220.3L516.2,223.7L514.3,226.6L513.2,229.6L510.5,230.4L507.5,228.7L505.3,229.1L502.3,228.1L500.1,223.1ZM520.6,220.3L522.7,219.2L526.7,220.0L530.8,218.6L528.6,221.1L522.9,221.0L521.2,223.9L523.8,223.9L527.2,223.9L524.7,226.0L526.1,230.4L523.7,231.9L522.8,227.9L521.4,228.1L521.4,233.6L519.7,233.6L519.5,229.1L518.6,227.7L520.6,222.2ZM541.9,223.7L544.7,222.8L547.8,223.7L548.4,227.3L550.3,228.9L553.2,226.2L556.6,225.8L560.8,227.5L559.9,241.1L558.0,239.0L555.3,239.4L554.5,237.3L556.1,236.3L554.4,232.9L550.9,231.5L546.6,230.0L545.1,230.4L543.6,228.1L546.5,227.0L544.3,226.6L541.7,224.7ZM510.8,239.0L512.1,239.7L514.6,239.7L518.3,239.9L518.3,240.7L514.4,241.1L511.1,240.5ZM520.0,239.7L523.1,239.9L525.9,239.4L525.5,240.3L522.0,240.7L520.0,240.5ZM526.7,243.6L527.8,241.8L529.6,241.1L528.3,243.2ZM518.2,241.8L520.4,242.0L521.4,243.2L519.9,243.4ZM535.0,219.9L536.1,217.5L537.5,218.8L536.4,221.1L537.3,223.3L536.0,222.8ZM532.2,228.7L534.5,228.7L534.1,230.0L532.4,229.8ZM536.1,228.1L540.8,228.3L541.3,229.6L537.9,229.4ZM547.5,234.2L548.5,233.8L548.2,235.7L547.4,236.1ZM541.6,237.6L542.6,237.1L542.3,238.8L541.3,238.8Z"/>
<path id="TLS" d="M529.6,241.1L533.3,239.7L533.9,239.9L531.5,241.3L529.5,242.0L528.3,243.2Z"/>
<path id="PHL" d="M518.6,182.6L521.7,182.8L522.5,186.9L521.5,188.4L522.1,191.6L526.4,192.6L526.9,195.2L524.0,192.8L521.4,193.1L520.1,191.6L518.4,188.0L518.6,185.8ZM524.0,207.1L526.8,205.6L527.4,203.9L530.4,201.4L532.1,203.9L532.7,206.7L531.9,208.6L530.9,210.1L530.0,207.7L528.1,207.5L527.4,205.6L524.4,207.3ZM527.7,195.4L529.4,195.4L530.5,198.2L529.4,200.5L528.7,199.2L528.0,197.7ZM523.4,196.9L525.5,197.5L525.8,200.7L524.8,201.8L523.6,199.7ZM519.9,193.5L521.8,193.7L522.1,195.8L521.1,195.6Z"/>
<path id="IRN" d="M371.6,137.6L374.3,139.2L376.8,137.6L379.3,140.3L380.0,142.0L381.8,142.4L383.9,143.9L388.6,143.5L388.6,142.5L391.1,141.3L394.0,140.7L397.1,141.8L400.3,144.1L401.7,144.1L402.3,146.3L402.4,148.4L401.9,150.3L403.2,154.1L405.0,155.2L404.1,158.5L408.1,161.8L409.2,163.9L409.5,165.0L407.1,166.0L406.8,168.4L402.9,168.0L398.7,167.1L397.7,164.3L396.0,164.3L393.8,165.6L391.5,165.2L387.5,162.6L386.0,160.5L384.5,158.0L382.1,157.3L381.5,158.2L379.7,156.0L379.5,153.3L376.2,151.8L374.6,149.7L375.9,147.3L374.0,145.4L372.5,142.9L371.4,140.5Z"/>
<path id="IRQ" d="M368.3,143.1L372.5,142.9L374.0,145.4L375.9,147.3L374.6,149.7L376.2,151.8L379.5,153.3L379.7,156.0L381.5,158.2L380.4,158.2L379.4,158.0L378.2,160.1L374.7,159.9L369.3,155.8L366.2,154.1L364.0,153.6L362.9,150.9L366.6,148.8L366.5,144.6Z"/>
<path id="KWT" d="M378.2,160.1L379.4,158.0L380.4,158.2L381.7,161.3L380.0,161.3Z"/>
<path id="SAU" d="M356.8,159.4L359.0,159.9L361.4,158.2L362.2,157.1L360.2,155.0L364.0,153.6L366.2,154.1L369.3,155.8L374.7,159.9L378.2,160.1L380.0,161.3L381.7,161.3L383.0,163.5L385.5,165.4L385.7,167.5L387.0,169.2L388.6,170.5L390.7,173.3L395.4,173.9L396.6,175.2L395.6,179.4L390.2,181.6L384.7,182.4L383.2,183.3L382.1,185.6L380.5,185.2L377.7,185.0L374.3,184.6L374.1,186.5L373.3,187.1L372.3,185.0L370.1,182.2L368.0,179.0L365.8,176.5L365.4,173.7L362.4,170.3L361.8,168.6L357.6,162.4L356.5,162.2Z"/>
<path id="YEM" d="M373.3,187.1L374.1,186.5L374.3,184.6L377.7,185.0L380.5,185.2L382.1,185.6L383.2,183.3L384.7,182.4L390.2,181.6L392.6,186.6L391.1,188.8L386.1,190.7L384.7,192.2L382.3,193.1L379.0,193.7L377.9,194.8L375.1,195.0L374.4,193.7L373.7,190.5Z"/>
<path id="OMN" d="M392.6,186.6L390.2,181.6L395.6,179.4L396.6,175.2L395.5,173.7L395.3,170.9L397.1,169.0L397.7,169.9L399.0,171.1L401.8,171.8L404.1,174.1L402.7,177.1L402.1,178.6L400.8,179.0L400.9,181.6L398.9,182.4L396.6,184.6L396.7,185.4ZM396.4,166.5L397.1,166.0L397.1,167.5L396.5,167.3Z"/>
<path id="ARE" d="M388.6,170.5L390.7,173.3L395.4,173.9L396.6,175.2L395.5,173.7L395.3,170.9L397.1,169.0L397.1,167.5L396.5,167.3L396.4,166.5L394.2,169.2L391.9,170.7L390.4,170.5Z"/>
<path id="QAT" d="M387.0,169.2L388.5,169.4L388.2,167.1L387.4,166.5L386.8,167.7Z"/>
<path id="JOR" d="M356.8,159.4L359.0,159.9L361.4,158.2L362.2,157.1L360.2,155.0L364.0,153.6L362.9,150.9L359.6,153.3L357.5,152.4L357.4,155.0L356.9,159.0Z"/>
<path id="ISR" d="M355.1,155.4L356.8,159.2L356.9,159.0L357.4,155.0L357.5,152.4L357.6,151.1L356.3,151.6L356.2,153.3L355.6,154.8Z"/>
<path id="LBN" d="M356.3,151.6L357.6,151.1L358.8,149.2L358.3,148.4L357.6,148.4L356.9,149.9Z"/>
<path id="SYR" d="M357.1,145.6L357.6,145.7L358.4,144.9L358.8,143.9L362.0,143.9L365.3,143.1L368.3,143.1L366.5,144.6L366.6,148.8L362.9,150.9L359.6,153.3L357.5,152.4L357.6,151.1L358.8,149.2L358.3,148.4L357.6,148.4L357.2,146.9Z"/>
<path id="TUR" d="M338.5,135.7L338.6,133.3L341.5,132.7L343.6,134.4L347.8,134.2L351.0,132.7L354.0,132.6L356.5,134.2L360.1,134.9L365.1,133.8L367.0,133.5L368.7,134.6L369.5,136.7L371.6,137.6L371.4,140.5L372.5,142.9L368.3,143.1L365.3,143.1L362.0,143.9L358.8,143.9L358.4,144.9L357.6,145.7L357.1,145.6L357.4,144.1L356.2,144.1L353.6,144.8L350.9,145.2L347.4,143.6L345.0,144.8L341.9,143.9L341.1,141.4L339.4,140.5L340.1,138.4L338.8,138.0L338.9,136.8L341.1,136.1L343.7,136.1L343.7,134.8L340.9,134.8L339.8,135.7Z"/>
<path id="GEO" d="M361.8,129.8L366.1,130.2L368.6,131.4L370.7,131.2L373.6,132.9L373.8,134.6L371.3,134.2L368.7,134.6L367.0,133.5L365.1,133.8L365.2,132.5L364.4,131.2Z"/>
<path id="ARM" d="M368.7,134.6L371.3,134.2L372.3,135.2L373.7,137.6L374.9,139.2L374.3,139.2L372.9,138.0L371.6,137.6L369.5,136.7Z"/>
<path id="AZE" d="M371.3,134.2L373.8,134.6L373.6,132.9L376.2,134.4L377.3,133.0L379.6,135.7L381.1,136.3L379.8,138.2L379.3,140.3L376.8,137.6L374.9,139.2L373.7,137.6L372.3,135.2ZM371.6,137.6L372.9,138.0L374.3,139.2L372.9,139.0Z"/>
<path id="AUS" d="M562.3,244.5L563.7,248.9L563.7,252.3L566.3,253.3L566.4,259.8L568.5,262.8L570.8,265.1L573.1,269.7L573.0,271.4L575.7,275.2L574.4,282.1L570.5,288.2L566.2,292.0L560.9,297.7L558.8,300.8L554.4,301.6L550.5,304.2L548.8,302.3L545.8,303.5L542.2,302.1L541.3,299.8L542.2,297.7L540.6,296.6L541.0,293.9L542.1,290.5L540.3,293.5L537.8,296.0L536.4,295.1L536.2,292.4L535.3,290.3L532.2,289.3L527.0,288.6L521.0,289.9L516.8,291.4L515.2,293.3L508.9,293.3L504.4,295.6L500.9,295.1L499.7,294.3L502.6,289.3L502.4,286.1L502.5,280.8L502.2,276.6L503.1,273.5L505.2,269.3L505.3,267.8L510.6,265.3L515.1,264.0L519.9,263.2L522.0,260.0L522.2,257.7L524.5,258.6L525.3,256.0L528.3,254.6L530.3,251.8L532.2,251.2L534.2,253.1L536.8,253.5L537.6,250.6L539.4,248.1L543.3,247.4L543.7,246.0L548.2,247.6L551.1,247.2L550.1,250.0L548.9,251.8L547.7,253.3L551.6,255.6L554.1,258.6L556.9,258.8L558.6,255.6L560.0,250.4L561.1,245.1ZM545.5,307.5L548.1,308.3L551.5,307.9L549.8,310.2L547.5,312.7L545.0,313.5L543.8,313.3L544.3,310.6Z"/>
<path id="NZL" d="M603.1,294.3L603.0,295.6L604.8,296.2L604.8,298.3L605.6,299.1L604.7,301.0L608.3,301.0L609.0,301.2L605.9,304.2L604.0,304.6L602.1,306.9L597.4,309.4L597.0,308.7L599.5,306.5L598.2,304.8L601.9,301.9L603.0,300.2L603.3,298.3ZM594.6,307.1L596.1,307.9L595.3,309.8L590.2,312.9L589.5,314.2L585.9,315.0L582.1,318.3L578.0,319.7L576.5,318.9L575.0,318.3L580.9,314.6L586.7,312.3L590.5,309.8Z"/>
<path id="PNG" d="M560.8,227.5L563.6,228.7L567.3,230.0L569.6,232.3L572.7,234.6L573.1,236.7L571.6,236.7L573.6,240.1L576.5,243.2L577.9,244.3L574.7,243.6L571.1,242.0L569.5,239.0L566.8,238.0L564.8,239.2L564.2,240.9L559.9,241.1ZM574.3,233.8L577.6,232.5L580.4,230.8L582.1,230.8L581.5,233.3L578.9,235.0L576.5,235.0ZM579.4,227.5L582.5,229.4L583.3,231.7L582.4,231.0L580.7,228.3ZM586.5,233.3L588.4,235.7L587.7,236.5L586.4,234.4Z"/>
<path id="SLB" d="M595.1,238.8L597.7,241.3L596.7,242.0L595.2,240.1Z"/>
<path id="NCL" d="M598.9,264.5L601.4,265.9L603.5,268.7L602.1,268.9L600.1,267.2Z"/>
<path id="FJI" d="M625.3,258.8L627.5,258.8L627.3,260.3L625.1,260.3ZM628.7,256.3L631.0,256.0L630.3,257.3L628.4,257.5Z"/>
</defs>
<g transform="translate(0,0)" stroke="#fff" stroke-width="0.45" stroke-linejoin="round">
<use href="#CAN" fill="#ff5700"/>
<use href="#USA" fill="#ff5700"/>
<use href="#MEX" fill="#ff4700"/>
<use href="#GTM" fill="#ff5200"/>
<use href="#BLZ" fill="#ff7a00"/>
<use href="#SLV" fill="#ff6600"/>
<use href="#HND" fill="#ff7800"/>
<use href="#NIC" fill="#ff7300"/>
<use href="#CRI" fill="#ffa800"/>
<use href="#PAN" fill="#ffbd00"/>
<use href="#CUB" fill="#ffcc00"/>
<use href="#HTI" fill="#ff7000"/>
<use href="#DOM" fill="#ffc700"/>
<use href="#JAM" fill="#ffc700"/>
<use href="#PRI" fill="#ffc700"/>
<use href="#TTO" fill="#ffcc00"/>
<use href="#GRL" fill="#ff5700"/>
<use href="#COL" fill="#ff6600"/>
<use href="#VEN" fill="#ff4200"/>
<use href="#GUY" fill="#ffc700"/>
<use href="#SUR" fill="#fff500"/>
<use href="#GUF" fill="#ff6600"/>
<use href="#ECU" fill="#ff7300"/>
<use href="#PER" fill="#ff7d00"/>
<use href="#BOL" fill="#ff8c00"/>
<use href="#CHL" fill="#ffad00"/>
<use href="#ARG" fill="#ff7000"/>
<use href="#PRY" fill="#ff8c00"/>
<use href="#URY" fill="#ff7000"/>
<use href="#BRA" fill="#ff6100"/>
<use href="#ISL" fill="#ff5700"/>
<use href="#IRL" fill="#ff5200"/>
<use href="#GBR" fill="#ff5200"/>
<use href="#PRT" fill="#ff5200"/>
<use href="#ESP" fill="#ff5200"/>
<use href="#FRA" fill="#ff5200"/>
<use href="#BEL" fill="#ff5200"/>
<use href="#NLD" fill="#ff5200"/>
<use href="#LUX" fill="#ff5200"/>
<use href="#DEU" fill="#ff5200"/>
<use href="#DNK" fill="#ff5200"/>
<use href="#CHE" fill="#ff5200"/>
<use href="#AUT" fill="#ff5c00"/>
<use href="#ITA" fill="#ff9900"/>
<use href="#SVN" fill="#ff9900"/>
<use href="#HRV" fill="#ff9900"/>
<use href="#BIH" fill="#ffeb00"/>
<use href="#MNE" fill="#ff9900"/>
<use href="#SRB" fill="#ff9900"/>
<use href="#ALB" fill="#ff9900"/>
<use href="#MKD" fill="#ff9900"/>
<use href="#GRC" fill="#ff6600"/>
<use href="#BGR" fill="#ff8200"/>
<use href="#ROU" fill="#ff7000"/>
<use href="#MDA" fill="#ff3300"/>
<use href="#HUN" fill="#ff9900"/>
<use href="#SVK" fill="#ff8200"/>
<use href="#CZE" fill="#ff7000"/>
<use href="#POL" fill="#ff7800"/>
<use href="#UKR" fill="#ff5c00"/>
<use href="#BLR" fill="#ff8c00"/>
<use href="#LTU" fill="#ff7000"/>
<use href="#LVA" fill="#ff7000"/>
<use href="#EST" fill="#ff6600"/>
<use href="#NOR" fill="#ff5200"/>
<use href="#SWE" fill="#ff5200"/>
<use href="#FIN" fill="#ff5200"/>
<use href="#CYP" fill="#ffcc00"/>
<use href="#MAR" fill="#ffde00"/>
<use href="#ESH" fill="#ffd900"/>
<use href="#DZA" fill="#ff9100"/>
<use href="#TUN" fill="#ff9900"/>
<use href="#LBY" fill="#ff4700"/>
<use href="#EGY" fill="#fffa00"/>
<use href="#SDN" fill="#ffe800"/>
<use href="#SSD" fill="#ff3d00"/>
<use href="#MRT" fill="#ffa300"/>
<use href="#MLI" fill="#ff9e00"/>
<use href="#SEN" fill="#ffa300"/>
<use href="#GNB" fill="#ff9900"/>
<use href="#GIN" fill="#f6fb06"/>
<use href="#SLE" fill="#ff8200"/>
<use href="#LBR" fill="#ff9900"/>
<use href="#CIV" fill="#ffad00"/>
<use href="#GHA" fill="#ffeb00"/>
<use href="#TGO" fill="#ff8f00"/>
<use href="#BEN" fill="#ff8f00"/>
<use href="#BFA" fill="#ffad00"/>
<use href="#NER" fill="#ff7000"/>
<use href="#NGA" fill="#ff9900"/>
<use href="#CMR" fill="#ff6100"/>
<use href="#TCD" fill="#ffd400"/>
<use href="#CAF" fill="#ffad00"/>
<use href="#GNQ" fill="#acdb3d"/>
<use href="#GAB" fill="#c8e828"/>
<use href="#COG" fill="#ff7800"/>
<use href="#COD" fill="#ff7000"/>
<use href="#AGO" fill="#fffa00"/>
<use href="#UGA" fill="#ff9900"/>
<use href="#RWA" fill="#ff9900"/>
<use href="#BDI" fill="#ff9900"/>
<use href="#KEN" fill="#ff4700"/>
<use href="#TZA" fill="#ff9900"/>
<use href="#ETH" fill="#ff7a00"/>
<use href="#ERI" fill="#ff7000"/>
<use href="#DJI" fill="#ff6600"/>
<use href="#SOM" fill="#ff4700"/>
<use href="#ZMB" fill="#ff9e00"/>
<use href="#MWI" fill="#ffa800"/>
<use href="#MOZ" fill="#ffdb00"/>
<use href="#ZWE" fill="#ff6600"/>
<use href="#BWA" fill="#ff7000"/>
<use href="#NAM" fill="#ff8c00"/>
<use href="#ZAF" fill="#ff7800"/>
<use href="#SWZ" fill="#ffe500"/>
<use href="#LSO" fill="#fff000"/>
<use href="#MDG" fill="#ff3d00"/>
<use href="#RUS" fill="#ff6100"/>
<use href="#KAZ" fill="#ffeb00"/>
<use href="#UZB" fill="#fff000"/>
<use href="#TKM" fill="#ff8200"/>
<use href="#KGZ" fill="#ff7a00"/>
<use href="#TJK" fill="#ff9900"/>
<use href="#AFG" fill="#ff8200"/>
<use href="#PAK" fill="#ff2900"/>
<use href="#IND" fill="#ffa300"/>
<use href="#NPL" fill="#ff9900"/>
<use href="#BTN" fill="#ff9900"/>
<use href="#BGD" fill="#ff9e00"/>
<use href="#LKA" fill="#ffe500"/>
<use href="#CHN" fill="#ff3800"/>
<use href="#TWN" fill="#ff3300"/>
<use href="#MNG" fill="#e5f413"/>
<use href="#PRK" fill="#ff9900"/>
<use href="#KOR" fill="#ff8200"/>
<use href="#JPN" fill="#ff6100"/>
<use href="#MMR" fill="#def118"/>
<use href="#THA" fill="#ffc700"/>
<use href="#LAO" fill="#ffc200"/>
<use href="#VNM" fill="#e7f512"/>
<use href="#KHM" fill="#a8d940"/>
<use href="#MYS" fill="#9dd548"/>
<use href="#BRN" fill="#d3ec20"/>
<use href="#SGP" fill="#ffff00"/>
<use href="#IDN" fill="#ffcc00"/>
<use href="#TLS" fill="#ffcc00"/>
<use href="#PHL" fill="#ff0a00"/>
<use href="#IRN" fill="#ffa300"/>
<use href="#IRQ" fill="#ffa800"/>
<use href="#KWT" fill="#ffa800"/>
<use href="#SAU" fill="#ff9900"/>
<use href="#YEM" fill="#ff7a00"/>
<use href="#OMN" fill="#ff9900"/>
<use href="#ARE" fill="#ffa300"/>
<use href="#QAT" fill="#ffa300"/>
<use href="#JOR" fill="#ff9e00"/>
<use href="#ISR" fill="#ff9900"/>
<use href="#LBN" fill="#ff9e00"/>
<use href="#SYR" fill="#ff9e00"/>
<use href="#TUR" fill="#fffa00"/>
<use href="#GEO" fill="#ff6600"/>
<use href="#ARM" fill="#ff8200"/>
<use href="#AZE" fill="#ff8c00"/>
<use href="#AUS" fill="#ff6100"/>
<use href="#NZL" fill="#ff5700"/>
<use href="#PNG" fill="#ffc200"/>
<use href="#SLB" fill="#ffe500"/>
<use href="#NCL" fill="#ff5200"/>
<use href="#FJI" fill="#ffcc00"/>
</g>
<rect x="664" y="137.3" width="16" height="150.5" fill="url(#lg)"/>
<text class="lt" x="656.3" y="119.0" textLength="31.6" lengthAdjust="spacingAndGlyphs">EAPC</text>
<text class="ll" x="690.5" y="143.5">1.3</text>
<text class="ll" x="690.5" y="218.1">-3.4</text>
<text class="ll" x="690.5" y="293.8">-8.1</text>
<text class="t" x="25" y="16" textLength="604.5" lengthAdjust="spacingAndGlyphs">(A) Estimated annual percentage change, ASPR of iodine deficiency</text>
<g transform="translate(0,413.8)" stroke="#fff" stroke-width="0.45" stroke-linejoin="round">
<use href="#CAN" fill="#ff8700"/>
<use href="#USA" fill="#ff6100"/>
<use href="#MEX" fill="#ff9e00"/>
<use href="#GTM" fill="#ff9e00"/>
<use href="#BLZ" fill="#ff9e00"/>
<use href="#SLV" fill="#ffe500"/>
<use href="#HND" fill="#ffa300"/>
<use href="#NIC" fill="#c2e52d"/>
<use href="#CRI" fill="#ff9900"/>
<use href="#PAN" fill="#ff9e00"/>
<use href="#CUB" fill="#ff7000"/>
<use href="#HTI" fill="#ff8000"/>
<use href="#DOM" fill="#ffdb00"/>
<use href="#JAM" fill="#ff9900"/>
<use href="#PRI" fill="#ffcc00"/>
<use href="#TTO" fill="#ffcc00"/>
<use href="#GRL" fill="#ff6100"/>
<use href="#COL" fill="#ffc700"/>
<use href="#VEN" fill="#ff3300"/>
<use href="#GUY" fill="#ffa300"/>
<use href="#SUR" fill="#ff9900"/>
<use href="#GUF" fill="#ff9900"/>
<use href="#ECU" fill="#ff8c00"/>
<use href="#PER" fill="#ff9e00"/>
<use href="#BOL" fill="#ff5c00"/>
<use href="#CHL" fill="#ff7a00"/>
<use href="#ARG" fill="#ff3d00"/>
<use href="#PRY" fill="#ff8c00"/>
<use href="#URY" fill="#ff5c00"/>
<use href="#BRA" fill="#ff9e00"/>
<use href="#ISL" fill="#ff8200"/>
<use href="#IRL" fill="#ff8200"/>
<use href="#GBR" fill="#ff7800"/>
<use href="#PRT" fill="#ff8c00"/>
<use href="#ESP" fill="#ff8c00"/>
<use href="#FRA" fill="#ff3300"/>
<use href="#BEL" fill="#ff7800"/>
<use href="#NLD" fill="#ff7800"/>
<use href="#LUX" fill="#ff7800"/>
<use href="#DEU" fill="#ff5c00"/>
<use href="#DNK" fill="#ff7000"/>
<use href="#CHE" fill="#ff6600"/>
<use href="#AUT" fill="#ff6600"/>
<use href="#ITA" fill="#ff7800"/>
<use href="#SVN" fill="#ff7800"/>
<use href="#HRV" fill="#ff7800"/>
<use href="#BIH" fill="#ffa800"/>
<use href="#MNE" fill="#ff9900"/>
<use href="#SRB" fill="#ff8200"/>
<use href="#ALB" fill="#ff9900"/>
<use href="#MKD" fill="#ff9900"/>
<use href="#GRC" fill="#ff8200"/>
<use href="#BGR" fill="#ff7000"/>
<use href="#ROU" fill="#ff8200"/>
<use href="#MDA" fill="#ff6600"/>
<use href="#HUN" fill="#ff7000"/>
<use href="#SVK" fill="#ff7000"/>
<use href="#CZE" fill="#ff6600"/>
<use href="#POL" fill="#ff9900"/>
<use href="#UKR" fill="#ff6600"/>
<use href="#BLR" fill="#ffb200"/>
<use href="#LTU" fill="#ffa800"/>
<use href="#LVA" fill="#ffa300"/>
<use href="#EST" fill="#ff9e00"/>
<use href="#NOR" fill="#ff8200"/>
<use href="#SWE" fill="#ff8200"/>
<use href="#FIN" fill="#ff8200"/>
<use href="#CYP" fill="#ffcc00"/>
<use href="#MAR" fill="#ffc700"/>
<use href="#ESH" fill="#ffbd00"/>
<use href="#DZA" fill="#ffe800"/>
<use href="#TUN" fill="#fff500"/>
<use href="#LBY" fill="#ffe000"/>
<use href="#EGY" fill="#ffcc00"/>
<use href="#SDN" fill="#ffe000"/>
<use href="#SSD" fill="#ff5c00"/>
<use href="#MRT" fill="#ffb500"/>
<use href="#MLI" fill="#ff7300"/>
<use href="#SEN" fill="#ffcc00"/>
<use href="#GNB" fill="#ff8c00"/>
<use href="#GIN" fill="#ff7d00"/>
<use href="#SLE" fill="#ff8c00"/>
<use href="#LBR" fill="#ff9e00"/>
<use href="#CIV" fill="#ff9900"/>
<use href="#GHA" fill="#ffb200"/>
<use href="#TGO" fill="#ff8c00"/>
<use href="#BEN" fill="#ff8200"/>
<use href="#BFA" fill="#ff9100"/>
<use href="#NER" fill="#ff4c00"/>
<use href="#NGA" fill="#ffd900"/>
<use href="#CMR" fill="#ff9400"/>
<use href="#TCD" fill="#ff6600"/>
<use href="#CAF" fill="#ff3d00"/>
<use href="#GNQ" fill="#a8d940"/>
<use href="#GAB" fill="#ffff00"/>
<use href="#COG" fill="#ff5200"/>
<use href="#COD" fill="#ff1f00"/>
<use href="#AGO" fill="#ffc200"/>
<use href="#UGA" fill="#ffa600"/>
<use href="#RWA" fill="#ff9900"/>
<use href="#BDI" fill="#ff9900"/>
<use href="#KEN" fill="#ff7000"/>
<use href="#TZA" fill="#ff7800"/>
<use href="#ETH" fill="#ff8c00"/>
<use href="#ERI" fill="#ff8200"/>
<use href="#DJI" fill="#ff3300"/>
<use href="#SOM" fill="#ff1400"/>
<use href="#ZMB" fill="#ffb800"/>
<use href="#MWI" fill="#ff8c00"/>
<use href="#MOZ" fill="#ff8200"/>
<use href="#ZWE" fill="#ff2900"/>
<use href="#BWA" fill="#ffa300"/>
<use href="#NAM" fill="#ff8c00"/>
<use href="#ZAF" fill="#ffd600"/>
<use href="#SWZ" fill="#ffcc00"/>
<use href="#LSO" fill="#ff9900"/>
<use href="#MDG" fill="#ff6600"/>
<use href="#RUS" fill="#ff8200"/>
<use href="#KAZ" fill="#ff8200"/>
<use href="#UZB" fill="#ff9e00"/>
<use href="#TKM" fill="#ff9900"/>
<use href="#KGZ" fill="#ff1400"/>
<use href="#TJK" fill="#ff3300"/>
<use href="#AFG" fill="#ff4c00"/>
<use href="#PAK" fill="#f0f80b"/>
<use href="#IND" fill="#ffc700"/>
<use href="#NPL" fill="#ffd100"/>
<use href="#BTN" fill="#ffe500"/>
<use href="#BGD" fill="#f4fa08"/>
<use href="#LKA" fill="#fff000"/>
<use href="#CHN" fill="#f0f80b"/>
<use href="#TWN" fill="#f0f80b"/>
<use href="#MNG" fill="#ffff00"/>
<use href="#PRK" fill="#ffa800"/>
<use href="#KOR" fill="#ffa800"/>
<use href="#JPN" fill="#ff2400"/>
<use href="#MMR" fill="#cfea23"/>
<use href="#THA" fill="#bee330"/>
<use href="#LAO" fill="#ffb800"/>
<use href="#VNM" fill="#fdfe02"/>
<use href="#KHM" fill="#bee330"/>
<use href="#MYS" fill="#e3f315"/>
<use href="#BRN" fill="#e9f610"/>
<use href="#SGP" fill="#ffff00"/>
<use href="#IDN" fill="#fffa00"/>
<use href="#TLS" fill="#ffcc00"/>
<use href="#PHL" fill="#ff5c00"/>
<use href="#IRN" fill="#cde925"/>
<use href="#IRQ" fill="#ffeb00"/>
<use href="#KWT" fill="#e9f610"/>
<use href="#SAU" fill="#acdb3d"/>
<use href="#YEM" fill="#ffd400"/>
<use href="#OMN" fill="#c6e72a"/>
<use href="#ARE" fill="#d3ec20"/>
<use href="#QAT" fill="#d3ec20"/>
<use href="#JOR" fill="#f4fa08"/>
<use href="#ISR" fill="#ffff00"/>
<use href="#LBN" fill="#ffff00"/>
<use href="#SYR" fill="#fff500"/>
<use href="#TUR" fill="#ffff00"/>
<use href="#GEO" fill="#ff0000"/>
<use href="#ARM" fill="#ff6600"/>
<use href="#AZE" fill="#ff8200"/>
<use href="#AUS" fill="#ff3d00"/>
<use href="#NZL" fill="#ff1f00"/>
<use href="#PNG" fill="#ff0f00"/>
<use href="#SLB" fill="#ff3300"/>
<use href="#NCL" fill="#ff3300"/>
<use href="#FJI" fill="#ff8f00"/>
</g>
<rect x="664" y="551.1" width="16" height="150.5" fill="url(#lg)"/>
<text class="lt" x="656.3" y="532.8" textLength="31.6" lengthAdjust="spacingAndGlyphs">EAPC</text>
<text class="ll" x="690.5" y="557.3">-0.1</text>
<text class="ll" x="690.5" y="631.9">-5</text>
<text class="ll" x="690.5" y="707.6">-9.9</text>
<text class="t" x="11" y="430" textLength="632" lengthAdjust="spacingAndGlyphs">(B) Estimated annual percentage change, ASPR of vitamin A deficiency</text>
<g transform="translate(0,827.5)" stroke="#fff" stroke-width="0.45" stroke-linejoin="round">
<use href="#CAN" fill="#fffa00"/>
<use href="#USA" fill="#ff5c00"/>
<use href="#MEX" fill="#ffc200"/>
<use href="#GTM" fill="#ffb200"/>
<use href="#BLZ" fill="#ffcc00"/>
<use href="#SLV" fill="#ffcc00"/>
<use href="#HND" fill="#ffc700"/>
<use href="#NIC" fill="#c4e62b"/>
<use href="#CRI" fill="#ffeb00"/>
<use href="#PAN" fill="#ffeb00"/>
<use href="#CUB" fill="#ffeb00"/>
<use href="#HTI" fill="#ff7a00"/>
<use href="#DOM" fill="#ffc700"/>
<use href="#JAM" fill="#ffcc00"/>
<use href="#PRI" fill="#ffcc00"/>
<use href="#TTO" fill="#ffcc00"/>
<use href="#GRL" fill="#ffd100"/>
<use href="#COL" fill="#c4e62b"/>
<use href="#VEN" fill="#f8fc05"/>
<use href="#GUY" fill="#ffb800"/>
<use href="#SUR" fill="#ff8200"/>
<use href="#GUF" fill="#ffdb00"/>
<use href="#ECU" fill="#a8d940"/>
<use href="#PER" fill="#d3ec20"/>
<use href="#BOL" fill="#ffb800"/>
<use href="#CHL" fill="#c8e828"/>
<use href="#ARG" fill="#ffe800"/>
<use href="#PRY" fill="#ffc200"/>
<use href="#URY" fill="#fff500"/>
<use href="#BRA" fill="#ffde00"/>
<use href="#ISL" fill="#ffeb00"/>
<use href="#IRL" fill="#cfea23"/>
<use href="#GBR" fill="#ffeb00"/>
<use href="#PRT" fill="#e9f610"/>
<use href="#ESP" fill="#e0f216"/>
<use href="#FRA" fill="#d3ec20"/>
<use href="#BEL" fill="#ffff00"/>
<use href="#NLD" fill="#ffff00"/>
<use href="#LUX" fill="#ffff00"/>
<use href="#DEU" fill="#f4fa08"/>
<use href="#DNK" fill="#eef70d"/>
<use href="#CHE" fill="#ffff00"/>
<use href="#AUT" fill="#ffd600"/>
<use href="#ITA" fill="#fdfe02"/>
<use href="#SVN" fill="#ffe500"/>
<use href="#HRV" fill="#ffbd00"/>
<use href="#BIH" fill="#ffcc00"/>
<use href="#MNE" fill="#ffcc00"/>
<use href="#SRB" fill="#ffdb00"/>
<use href="#ALB" fill="#ff9900"/>
<use href="#MKD" fill="#ff9900"/>
<use href="#GRC" fill="#ffeb00"/>
<use href="#BGR" fill="#ff8c00"/>
<use href="#ROU" fill="#ffd100"/>
<use href="#MDA" fill="#ffe500"/>
<use href="#HUN" fill="#ffb200"/>
<use href="#SVK" fill="#ffc700"/>
<use href="#CZE" fill="#ffc700"/>
<use href="#POL" fill="#ffeb00"/>
<use href="#UKR" fill="#ffeb00"/>
<use href="#BLR" fill="#fff500"/>
<use href="#LTU" fill="#ff8c00"/>
<use href="#LVA" fill="#ffff00"/>
<use href="#EST" fill="#eef70d"/>
<use href="#NOR" fill="#fbfd03"/>
<use href="#SWE" fill="#ffc700"/>
<use href="#FIN" fill="#e3f315"/>
<use href="#CYP" fill="#ffff00"/>
<use href="#MAR" fill="#ffa800"/>
<use href="#ESH" fill="#ffc700"/>
<use href="#DZA" fill="#fffa00"/>
<use href="#TUN" fill="#fff500"/>
<use href="#LBY" fill="#ffb500"/>
<use href="#EGY" fill="#ffbf00"/>
<use href="#SDN" fill="#ffa600"/>
<use href="#SSD" fill="#ff9900"/>
<use href="#MRT" fill="#ff8c00"/>
<use href="#MLI" fill="#ff4000"/>
<use href="#SEN" fill="#ff7800"/>
<use href="#GNB" fill="#ff6600"/>
<use href="#GIN" fill="#ff4c00"/>
<use href="#SLE" fill="#ff7000"/>
<use href="#LBR" fill="#ffa300"/>
<use href="#CIV" fill="#ff7000"/>
<use href="#GHA" fill="#ff3d00"/>
<use href="#TGO" fill="#ff6600"/>
<use href="#BEN" fill="#ff7000"/>
<use href="#BFA" fill="#ff0a00"/>
<use href="#NER" fill="#ff8f00"/>
<use href="#NGA" fill="#ff4f00"/>
<use href="#CMR" fill="#ff6100"/>
<use href="#TCD" fill="#ff7500"/>
<use href="#CAF" fill="#ff7000"/>
<use href="#GNQ" fill="#ffff00"/>
<use href="#GAB" fill="#ff7800"/>
<use href="#COG" fill="#ff8200"/>
<use href="#COD" fill="#ff9e00"/>
<use href="#AGO" fill="#ff7800"/>
<use href="#UGA" fill="#ff9e00"/>
<use href="#RWA" fill="#ff9900"/>
<use href="#BDI" fill="#ff9900"/>
<use href="#KEN" fill="#ff7000"/>
<use href="#TZA" fill="#ffa800"/>
<use href="#ETH" fill="#ffa300"/>
<use href="#ERI" fill="#ff9e00"/>
<use href="#DJI" fill="#ff9900"/>
<use href="#SOM" fill="#ffa300"/>
<use href="#ZMB" fill="#ff3d00"/>
<use href="#MWI" fill="#ff3300"/>
<use href="#MOZ" fill="#ff8c00"/>
<use href="#ZWE" fill="#ff3300"/>
<use href="#BWA" fill="#ffc200"/>
<use href="#NAM" fill="#ffeb00"/>
<use href="#ZAF" fill="#ffc200"/>
<use href="#SWZ" fill="#ff9900"/>
<use href="#LSO" fill="#ff7800"/>
<use href="#MDG" fill="#ff8c00"/>
<use href="#RUS" fill="#ffff00"/>
<use href="#KAZ" fill="#ffcc00"/>
<use href="#UZB" fill="#ffad00"/>
<use href="#TKM" fill="#ffb800"/>
<use href="#KGZ" fill="#ffbd00"/>
<use href="#TJK" fill="#ffbd00"/>
<use href="#AFG" fill="#ffc700"/>
<use href="#PAK" fill="#ff8200"/>
<use href="#IND" fill="#ff8c00"/>
<use href="#NPL" fill="#ff8c00"/>
<use href="#BTN" fill="#ffcc00"/>
<use href="#BGD" fill="#ffb800"/>
<use href="#LKA" fill="#eef70d"/>
<use href="#CHN" fill="#99d34b"/>
<use href="#TWN" fill="#99d34b"/>
<use href="#MNG" fill="#fafd04"/>
<use href="#PRK" fill="#ffa300"/>
<use href="#KOR" fill="#c4e62b"/>
<use href="#JPN" fill="#fff500"/>
<use href="#MMR" fill="#ff9100"/>
<use href="#THA" fill="#ebf70e"/>
<use href="#LAO" fill="#ffcc00"/>
<use href="#VNM" fill="#eef70d"/>
<use href="#KHM" fill="#ff9e00"/>
<use href="#MYS" fill="#ff9e00"/>
<use href="#BRN" fill="#ffff00"/>
<use href="#SGP" fill="#ffff00"/>
<use href="#IDN" fill="#f8fc05"/>
<use href="#TLS" fill="#ff8000"/>
<use href="#PHL" fill="#f2f90a"/>
<use href="#IRN" fill="#e3f315"/>
<use href="#IRQ" fill="#fdfe02"/>
<use href="#KWT" fill="#ffff00"/>
<use href="#SAU" fill="#f4fa08"/>
<use href="#YEM" fill="#ff2400"/>
<use href="#OMN" fill="#ebf70e"/>
<use href="#ARE" fill="#fbfd03"/>
<use href="#QAT" fill="#fbfd03"/>
<use href="#JOR" fill="#ffff00"/>
<use href="#ISR" fill="#ffff00"/>
<use href="#LBN" fill="#ffff00"/>
<use href="#SYR" fill="#ffff00"/>
<use href="#TUR" fill="#d1eb22"/>
<use href="#GEO" fill="#ff8000"/>
<use href="#ARM" fill="#ffb200"/>
<use href="#AZE" fill="#ffcc00"/>
<use href="#AUS" fill="#ffff00"/>
<use href="#NZL" fill="#ffc200"/>
<use href="#PNG" fill="#ff7000"/>
<use href="#SLB" fill="#ff9900"/>
<use href="#NCL" fill="#d3ec20"/>
<use href="#FJI" fill="#ff1a00"/>
</g>
<rect x="664" y="964.8" width="16" height="150.5" fill="url(#lg)"/>
<text class="lt" x="656.3" y="946.5" textLength="31.6" lengthAdjust="spacingAndGlyphs">EAPC</text>
<text class="ll" x="690.5" y="971.0">1.1</text>
<text class="ll" x="690.5" y="1045.6">-1.4</text>
<text class="ll" x="690.5" y="1121.3">-3.9</text>
<text class="t" x="3" y="843.5" textLength="650" lengthAdjust="spacingAndGlyphs">(C) Estimated annual percentage change, ASPR of dietary iron deficiency</text>
</svg>
</body></html>
